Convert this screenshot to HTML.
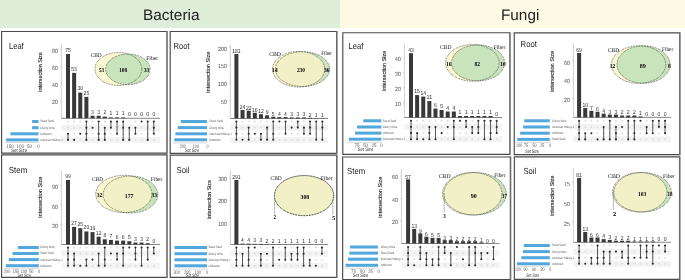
<!DOCTYPE html>
<html><head><meta charset="utf-8"><title>UpSet plots</title>
<style>
html,body{margin:0;padding:0;background:#fff;width:685px;height:280px;overflow:hidden;}
svg{display:block;will-change:transform;text-rendering:geometricPrecision;font-family:"Liberation Sans",sans-serif;}
</style></head>
<body>
<svg width="685" height="280" viewBox="0 0 685 280"><rect x="0" y="0" width="340.2" height="28" fill="#dfeed9"/>
<rect x="340.2" y="0" width="344.8" height="28" fill="#fcfae4"/>
<text x="143" y="20.2" font-family="Liberation Sans" font-size="15.2" fill="#222" textLength="56.6" lengthAdjust="spacingAndGlyphs">Bacteria</text>
<text x="501" y="20.2" font-family="Liberation Sans" font-size="15.2" fill="#222" textLength="38.3" lengthAdjust="spacingAndGlyphs">Fungi</text>
<path d="M167,31.5 H1.6 V153.15 H167" fill="none" stroke="#4a4a4a" stroke-width="1.15"/>
<line x1="167" y1="30.95" x2="167" y2="153.7" stroke="#6a6a6a" stroke-width="1.6"/>
<text x="9" y="49" font-family="Liberation Sans" font-size="8.8" fill="#1a1a1a" textLength="14.7" lengthAdjust="spacingAndGlyphs">Leaf</text>
<rect x="61.4" y="124.7" width="98.6" height="6" fill="#f3f3f3"/>
<rect x="61.4" y="136.9" width="98.6" height="6" fill="#f3f3f3"/>
<line x1="61.4" y1="44" x2="61.4" y2="118.3" stroke="#c4c4c4" stroke-width="0.8"/>
<line x1="60.4" y1="101.16" x2="61.4" y2="101.16" stroke="#aaa" stroke-width="0.6"/>
<text x="57.9" y="104.46" font-family="Liberation Sans" font-size="6" fill="#4a4a4a" text-anchor="end" textLength="5.8" lengthAdjust="spacingAndGlyphs">20</text>
<line x1="60.4" y1="84.02" x2="61.4" y2="84.02" stroke="#aaa" stroke-width="0.6"/>
<text x="57.9" y="87.32" font-family="Liberation Sans" font-size="6" fill="#4a4a4a" text-anchor="end" textLength="5.8" lengthAdjust="spacingAndGlyphs">40</text>
<line x1="60.4" y1="66.88" x2="61.4" y2="66.88" stroke="#aaa" stroke-width="0.6"/>
<text x="57.9" y="70.18" font-family="Liberation Sans" font-size="6" fill="#4a4a4a" text-anchor="end" textLength="5.8" lengthAdjust="spacingAndGlyphs">60</text>
<line x1="60.4" y1="49.74" x2="61.4" y2="49.74" stroke="#aaa" stroke-width="0.6"/>
<text x="57.9" y="53.04" font-family="Liberation Sans" font-size="6" fill="#4a4a4a" text-anchor="end" textLength="5.8" lengthAdjust="spacingAndGlyphs">80</text>
<text transform="translate(42.1,72.1) rotate(-90)" x="0" y="0" font-family="Liberation Sans" font-size="5.6" fill="#1e1e1e" stroke="#1e1e1e" stroke-width="0.12" text-anchor="middle" textLength="39.8" lengthAdjust="spacingAndGlyphs">Intersection Size</text>
<line x1="61.4" y1="118.3" x2="160" y2="118.3" stroke="#555" stroke-width="0.7"/>
<rect x="66" y="54.02" width="4" height="64.28" fill="#383838"/>
<text x="68" y="51.92" font-family="Liberation Sans" font-size="5.9" fill="#2a2a2a" text-anchor="middle" textLength="5.6" lengthAdjust="spacingAndGlyphs">75</text>
<rect x="72.13" y="72.88" width="4" height="45.42" fill="#383838"/>
<text x="74.13" y="70.78" font-family="Liberation Sans" font-size="5.9" fill="#2a2a2a" text-anchor="middle" textLength="5.6" lengthAdjust="spacingAndGlyphs">53</text>
<rect x="78.26" y="92.59" width="4" height="25.71" fill="#383838"/>
<text x="80.26" y="90.49" font-family="Liberation Sans" font-size="5.9" fill="#2a2a2a" text-anchor="middle" textLength="5.6" lengthAdjust="spacingAndGlyphs">30</text>
<rect x="84.39" y="96.88" width="4" height="21.43" fill="#383838"/>
<text x="86.39" y="94.78" font-family="Liberation Sans" font-size="5.9" fill="#2a2a2a" text-anchor="middle" textLength="5.6" lengthAdjust="spacingAndGlyphs">25</text>
<rect x="90.52" y="115.73" width="4" height="2.57" fill="#383838"/>
<text x="92.52" y="113.63" font-family="Liberation Sans" font-size="5.9" fill="#2a2a2a" text-anchor="middle" textLength="2.8" lengthAdjust="spacingAndGlyphs">3</text>
<rect x="96.65" y="115.73" width="4" height="2.57" fill="#383838"/>
<text x="98.65" y="113.63" font-family="Liberation Sans" font-size="5.9" fill="#2a2a2a" text-anchor="middle" textLength="2.8" lengthAdjust="spacingAndGlyphs">3</text>
<rect x="102.78" y="116.59" width="4" height="1.71" fill="#383838"/>
<text x="104.78" y="114.49" font-family="Liberation Sans" font-size="5.9" fill="#2a2a2a" text-anchor="middle" textLength="2.8" lengthAdjust="spacingAndGlyphs">2</text>
<rect x="108.91" y="117.44" width="4" height="0.86" fill="#383838"/>
<text x="110.91" y="115.34" font-family="Liberation Sans" font-size="5.9" fill="#2a2a2a" text-anchor="middle" textLength="2.8" lengthAdjust="spacingAndGlyphs">1</text>
<rect x="115.04" y="117.44" width="4" height="0.86" fill="#383838"/>
<text x="117.04" y="115.34" font-family="Liberation Sans" font-size="5.9" fill="#2a2a2a" text-anchor="middle" textLength="2.8" lengthAdjust="spacingAndGlyphs">1</text>
<rect x="121.17" y="117.44" width="4" height="0.86" fill="#383838"/>
<text x="123.17" y="115.34" font-family="Liberation Sans" font-size="5.9" fill="#2a2a2a" text-anchor="middle" textLength="2.8" lengthAdjust="spacingAndGlyphs">1</text>
<text x="129.3" y="116.2" font-family="Liberation Sans" font-size="5.9" fill="#2a2a2a" text-anchor="middle" textLength="2.8" lengthAdjust="spacingAndGlyphs">0</text>
<text x="135.43" y="116.2" font-family="Liberation Sans" font-size="5.9" fill="#2a2a2a" text-anchor="middle" textLength="2.8" lengthAdjust="spacingAndGlyphs">0</text>
<text x="141.56" y="116.2" font-family="Liberation Sans" font-size="5.9" fill="#2a2a2a" text-anchor="middle" textLength="2.8" lengthAdjust="spacingAndGlyphs">0</text>
<text x="147.69" y="116.2" font-family="Liberation Sans" font-size="5.9" fill="#2a2a2a" text-anchor="middle" textLength="2.8" lengthAdjust="spacingAndGlyphs">0</text>
<text x="153.82" y="116.2" font-family="Liberation Sans" font-size="5.9" fill="#2a2a2a" text-anchor="middle" textLength="2.8" lengthAdjust="spacingAndGlyphs">0</text>
<circle cx="68" cy="121.5" r="0.95" fill="#dcdcdc"/>
<circle cx="68" cy="127.7" r="0.95" fill="#dcdcdc"/>
<line x1="68" y1="133.8" x2="68" y2="139.9" stroke="#3a3a3a" stroke-width="0.85"/>
<circle cx="68" cy="133.8" r="1.05" fill="#2a2a2a"/>
<circle cx="68" cy="139.9" r="1.05" fill="#2a2a2a"/>
<circle cx="74.13" cy="121.5" r="0.95" fill="#dcdcdc"/>
<circle cx="74.13" cy="127.7" r="0.95" fill="#dcdcdc"/>
<circle cx="74.13" cy="133.8" r="0.95" fill="#dcdcdc"/>
<circle cx="74.13" cy="139.9" r="1.05" fill="#2a2a2a"/>
<circle cx="80.26" cy="121.5" r="0.95" fill="#dcdcdc"/>
<circle cx="80.26" cy="127.7" r="0.95" fill="#dcdcdc"/>
<circle cx="80.26" cy="139.9" r="0.95" fill="#dcdcdc"/>
<circle cx="80.26" cy="133.8" r="1.05" fill="#2a2a2a"/>
<line x1="86.39" y1="121.5" x2="86.39" y2="139.9" stroke="#3a3a3a" stroke-width="0.85"/>
<circle cx="86.39" cy="121.5" r="1.05" fill="#2a2a2a"/>
<circle cx="86.39" cy="127.7" r="1.05" fill="#2a2a2a"/>
<circle cx="86.39" cy="133.8" r="1.05" fill="#2a2a2a"/>
<circle cx="86.39" cy="139.9" r="1.05" fill="#2a2a2a"/>
<circle cx="92.52" cy="121.5" r="0.95" fill="#dcdcdc"/>
<circle cx="92.52" cy="133.8" r="0.95" fill="#dcdcdc"/>
<circle cx="92.52" cy="139.9" r="0.95" fill="#dcdcdc"/>
<circle cx="92.52" cy="127.7" r="1.05" fill="#2a2a2a"/>
<circle cx="98.65" cy="127.7" r="0.95" fill="#dcdcdc"/>
<line x1="98.65" y1="121.5" x2="98.65" y2="139.9" stroke="#3a3a3a" stroke-width="0.85"/>
<circle cx="98.65" cy="121.5" r="1.05" fill="#2a2a2a"/>
<circle cx="98.65" cy="133.8" r="1.05" fill="#2a2a2a"/>
<circle cx="98.65" cy="139.9" r="1.05" fill="#2a2a2a"/>
<circle cx="104.78" cy="121.5" r="0.95" fill="#dcdcdc"/>
<line x1="104.78" y1="127.7" x2="104.78" y2="139.9" stroke="#3a3a3a" stroke-width="0.85"/>
<circle cx="104.78" cy="127.7" r="1.05" fill="#2a2a2a"/>
<circle cx="104.78" cy="133.8" r="1.05" fill="#2a2a2a"/>
<circle cx="104.78" cy="139.9" r="1.05" fill="#2a2a2a"/>
<circle cx="110.91" cy="133.8" r="0.95" fill="#dcdcdc"/>
<circle cx="110.91" cy="139.9" r="0.95" fill="#dcdcdc"/>
<line x1="110.91" y1="121.5" x2="110.91" y2="127.7" stroke="#3a3a3a" stroke-width="0.85"/>
<circle cx="110.91" cy="121.5" r="1.05" fill="#2a2a2a"/>
<circle cx="110.91" cy="127.7" r="1.05" fill="#2a2a2a"/>
<circle cx="117.04" cy="127.7" r="0.95" fill="#dcdcdc"/>
<circle cx="117.04" cy="139.9" r="0.95" fill="#dcdcdc"/>
<line x1="117.04" y1="121.5" x2="117.04" y2="133.8" stroke="#3a3a3a" stroke-width="0.85"/>
<circle cx="117.04" cy="121.5" r="1.05" fill="#2a2a2a"/>
<circle cx="117.04" cy="133.8" r="1.05" fill="#2a2a2a"/>
<circle cx="123.17" cy="133.8" r="0.95" fill="#dcdcdc"/>
<line x1="123.17" y1="121.5" x2="123.17" y2="139.9" stroke="#3a3a3a" stroke-width="0.85"/>
<circle cx="123.17" cy="121.5" r="1.05" fill="#2a2a2a"/>
<circle cx="123.17" cy="127.7" r="1.05" fill="#2a2a2a"/>
<circle cx="123.17" cy="139.9" r="1.05" fill="#2a2a2a"/>
<circle cx="129.3" cy="121.5" r="0.95" fill="#dcdcdc"/>
<circle cx="129.3" cy="133.8" r="0.95" fill="#dcdcdc"/>
<line x1="129.3" y1="127.7" x2="129.3" y2="139.9" stroke="#3a3a3a" stroke-width="0.85"/>
<circle cx="129.3" cy="127.7" r="1.05" fill="#2a2a2a"/>
<circle cx="129.3" cy="139.9" r="1.05" fill="#2a2a2a"/>
<circle cx="135.43" cy="121.5" r="0.95" fill="#dcdcdc"/>
<circle cx="135.43" cy="139.9" r="0.95" fill="#dcdcdc"/>
<line x1="135.43" y1="127.7" x2="135.43" y2="133.8" stroke="#3a3a3a" stroke-width="0.85"/>
<circle cx="135.43" cy="127.7" r="1.05" fill="#2a2a2a"/>
<circle cx="135.43" cy="133.8" r="1.05" fill="#2a2a2a"/>
<circle cx="141.56" cy="127.7" r="0.95" fill="#dcdcdc"/>
<circle cx="141.56" cy="133.8" r="0.95" fill="#dcdcdc"/>
<circle cx="141.56" cy="139.9" r="0.95" fill="#dcdcdc"/>
<circle cx="141.56" cy="121.5" r="1.05" fill="#2a2a2a"/>
<circle cx="147.69" cy="127.7" r="0.95" fill="#dcdcdc"/>
<circle cx="147.69" cy="133.8" r="0.95" fill="#dcdcdc"/>
<line x1="147.69" y1="121.5" x2="147.69" y2="139.9" stroke="#3a3a3a" stroke-width="0.85"/>
<circle cx="147.69" cy="121.5" r="1.05" fill="#2a2a2a"/>
<circle cx="147.69" cy="139.9" r="1.05" fill="#2a2a2a"/>
<circle cx="153.82" cy="139.9" r="0.95" fill="#dcdcdc"/>
<line x1="153.82" y1="121.5" x2="153.82" y2="133.8" stroke="#3a3a3a" stroke-width="0.85"/>
<circle cx="153.82" cy="121.5" r="1.05" fill="#2a2a2a"/>
<circle cx="153.82" cy="127.7" r="1.05" fill="#2a2a2a"/>
<circle cx="153.82" cy="133.8" r="1.05" fill="#2a2a2a"/>
<text x="40.3" y="122.4" font-family="Liberation Sans" font-size="3.4" fill="#505050" textLength="13.4" lengthAdjust="spacingAndGlyphs">Sweet Sand</text>
<text x="40.3" y="128.6" font-family="Liberation Sans" font-size="3.4" fill="#505050" textLength="14.5" lengthAdjust="spacingAndGlyphs">Cherry Wine</text>
<text x="40.3" y="134.7" font-family="Liberation Sans" font-size="3.4" fill="#505050" textLength="11.2" lengthAdjust="spacingAndGlyphs">Unknown</text>
<text x="40.3" y="140.8" font-family="Liberation Sans" font-size="3.4" fill="#505050" textLength="22.3" lengthAdjust="spacingAndGlyphs">American History-1</text>
<rect x="32.1" y="120" width="6.4" height="3.0" fill="#52a7dd"/>
<rect x="32.1" y="126.2" width="6.4" height="3.0" fill="#52a7dd"/>
<rect x="10.4" y="132.3" width="28.1" height="3.0" fill="#52a7dd"/>
<rect x="6.1" y="138.4" width="32.4" height="3.0" fill="#52a7dd"/>
<line x1="4.3" y1="142.6" x2="39.1" y2="142.6" stroke="#cfcfcf" stroke-width="0.8"/>
<text x="10" y="147.6" font-family="Liberation Sans" font-size="5" fill="#555" text-anchor="middle" textLength="7.5" lengthAdjust="spacingAndGlyphs">150</text>
<text x="20.3" y="147.6" font-family="Liberation Sans" font-size="5" fill="#555" text-anchor="middle" textLength="7.5" lengthAdjust="spacingAndGlyphs">100</text>
<text x="29.6" y="147.6" font-family="Liberation Sans" font-size="5" fill="#555" text-anchor="middle" textLength="5" lengthAdjust="spacingAndGlyphs">50</text>
<text x="38.5" y="147.6" font-family="Liberation Sans" font-size="5" fill="#555" text-anchor="middle" textLength="2.5" lengthAdjust="spacingAndGlyphs">0</text>
<text x="11.2" y="152.05" font-family="Liberation Sans" font-size="5" fill="#333" textLength="15.8" lengthAdjust="spacingAndGlyphs">Set Size</text>
<clipPath id="c0"><ellipse cx="118.4" cy="69" rx="23.4" ry="16.5"/></clipPath>
<ellipse cx="118.4" cy="69" rx="23.4" ry="16.5" fill="#fbf7d1"/>
<ellipse cx="127.9" cy="69.3" rx="22.2" ry="15.3" fill="#c9e3bc"/>
<ellipse clip-path="url(#c0)" cx="127.9" cy="69.3" rx="22.2" ry="15.3" fill="#c9e3bc"/>
<ellipse cx="118.4" cy="69" rx="23.4" ry="16.5" fill="none" stroke="#262626" stroke-width="0.75" stroke-dasharray="0.7 0.9"/>
<ellipse cx="127.9" cy="69.3" rx="22.2" ry="15.3" fill="none" stroke="#262626" stroke-width="0.75" stroke-dasharray="0.7 0.9"/>
<text x="90.7" y="56.7" font-family="Liberation Serif" font-size="5.8" fill="#111" textLength="11" lengthAdjust="spacingAndGlyphs">CBD</text>
<text x="146.2" y="59.7" font-family="Liberation Serif" font-size="5.8" fill="#111" textLength="12" lengthAdjust="spacingAndGlyphs">Fiber</text>
<text x="99" y="72.2" font-family="Liberation Serif" font-size="6" fill="#000" textLength="5.2" lengthAdjust="spacingAndGlyphs" font-weight="bold">53</text>
<text x="119.2" y="72.2" font-family="Liberation Serif" font-size="6" fill="#000" textLength="8" lengthAdjust="spacingAndGlyphs" font-weight="bold">108</text>
<text x="144" y="72.2" font-family="Liberation Serif" font-size="6" fill="#000" textLength="5.2" lengthAdjust="spacingAndGlyphs" font-weight="bold">33</text>
<path d="M336.8,31.5 H170.2 V153.3 H336.8" fill="none" stroke="#4a4a4a" stroke-width="1.15"/>
<line x1="336.8" y1="30.95" x2="336.8" y2="153.85" stroke="#6a6a6a" stroke-width="1.6"/>
<text x="173.6" y="48.8" font-family="Liberation Sans" font-size="8.8" fill="#1a1a1a" textLength="16" lengthAdjust="spacingAndGlyphs">Root</text>
<rect x="230.3" y="124.6" width="97.7" height="6" fill="#f3f3f3"/>
<rect x="230.3" y="136.8" width="97.7" height="6" fill="#f3f3f3"/>
<line x1="230.3" y1="44.5" x2="230.3" y2="118.5" stroke="#c4c4c4" stroke-width="0.8"/>
<line x1="229.3" y1="100.7" x2="230.3" y2="100.7" stroke="#aaa" stroke-width="0.6"/>
<text x="226.8" y="104" font-family="Liberation Sans" font-size="6" fill="#4a4a4a" text-anchor="end" textLength="5.8" lengthAdjust="spacingAndGlyphs">50</text>
<line x1="229.3" y1="82.9" x2="230.3" y2="82.9" stroke="#aaa" stroke-width="0.6"/>
<text x="226.8" y="86.2" font-family="Liberation Sans" font-size="6" fill="#4a4a4a" text-anchor="end" textLength="8.7" lengthAdjust="spacingAndGlyphs">100</text>
<line x1="229.3" y1="65.1" x2="230.3" y2="65.1" stroke="#aaa" stroke-width="0.6"/>
<text x="226.8" y="68.4" font-family="Liberation Sans" font-size="6" fill="#4a4a4a" text-anchor="end" textLength="8.7" lengthAdjust="spacingAndGlyphs">150</text>
<line x1="229.3" y1="47.3" x2="230.3" y2="47.3" stroke="#aaa" stroke-width="0.6"/>
<text x="226.8" y="50.6" font-family="Liberation Sans" font-size="6" fill="#4a4a4a" text-anchor="end" textLength="8.7" lengthAdjust="spacingAndGlyphs">200</text>
<text transform="translate(209.5,72.3) rotate(-90)" x="0" y="0" font-family="Liberation Sans" font-size="5.6" fill="#1e1e1e" stroke="#1e1e1e" stroke-width="0.12" text-anchor="middle" textLength="41.5" lengthAdjust="spacingAndGlyphs">Intersection Size</text>
<line x1="230.3" y1="118.5" x2="328" y2="118.5" stroke="#555" stroke-width="0.7"/>
<rect x="234.4" y="54.06" width="4" height="64.44" fill="#383838"/>
<text x="236.4" y="52.96" font-family="Liberation Sans" font-size="5.9" fill="#2a2a2a" text-anchor="middle" textLength="8.4" lengthAdjust="spacingAndGlyphs">181</text>
<rect x="240.54" y="109.96" width="4" height="8.54" fill="#383838"/>
<text x="242.54" y="108.86" font-family="Liberation Sans" font-size="5.9" fill="#2a2a2a" text-anchor="middle" textLength="5.6" lengthAdjust="spacingAndGlyphs">24</text>
<rect x="246.68" y="110.67" width="4" height="7.83" fill="#383838"/>
<text x="248.68" y="109.57" font-family="Liberation Sans" font-size="5.9" fill="#2a2a2a" text-anchor="middle" textLength="5.6" lengthAdjust="spacingAndGlyphs">22</text>
<rect x="252.82" y="112.8" width="4" height="5.7" fill="#383838"/>
<text x="254.82" y="111.7" font-family="Liberation Sans" font-size="5.9" fill="#2a2a2a" text-anchor="middle" textLength="5.6" lengthAdjust="spacingAndGlyphs">16</text>
<rect x="258.96" y="114.23" width="4" height="4.27" fill="#383838"/>
<text x="260.96" y="113.13" font-family="Liberation Sans" font-size="5.9" fill="#2a2a2a" text-anchor="middle" textLength="5.6" lengthAdjust="spacingAndGlyphs">12</text>
<rect x="265.1" y="115.3" width="4" height="3.2" fill="#383838"/>
<text x="267.1" y="114.2" font-family="Liberation Sans" font-size="5.9" fill="#2a2a2a" text-anchor="middle" textLength="2.8" lengthAdjust="spacingAndGlyphs">9</text>
<rect x="271.24" y="116.72" width="4" height="1.78" fill="#383838"/>
<text x="273.24" y="115.62" font-family="Liberation Sans" font-size="5.9" fill="#2a2a2a" text-anchor="middle" textLength="2.8" lengthAdjust="spacingAndGlyphs">5</text>
<rect x="277.38" y="117.08" width="4" height="1.42" fill="#383838"/>
<text x="279.38" y="115.98" font-family="Liberation Sans" font-size="5.9" fill="#2a2a2a" text-anchor="middle" textLength="2.8" lengthAdjust="spacingAndGlyphs">4</text>
<rect x="283.52" y="117.08" width="4" height="1.42" fill="#383838"/>
<text x="285.52" y="115.98" font-family="Liberation Sans" font-size="5.9" fill="#2a2a2a" text-anchor="middle" textLength="2.8" lengthAdjust="spacingAndGlyphs">4</text>
<rect x="289.66" y="117.43" width="4" height="1.07" fill="#383838"/>
<text x="291.66" y="116.33" font-family="Liberation Sans" font-size="5.9" fill="#2a2a2a" text-anchor="middle" textLength="2.8" lengthAdjust="spacingAndGlyphs">3</text>
<rect x="295.8" y="117.43" width="4" height="1.07" fill="#383838"/>
<text x="297.8" y="116.33" font-family="Liberation Sans" font-size="5.9" fill="#2a2a2a" text-anchor="middle" textLength="2.8" lengthAdjust="spacingAndGlyphs">3</text>
<rect x="301.94" y="117.43" width="4" height="1.07" fill="#383838"/>
<text x="303.94" y="116.33" font-family="Liberation Sans" font-size="5.9" fill="#2a2a2a" text-anchor="middle" textLength="2.8" lengthAdjust="spacingAndGlyphs">3</text>
<rect x="308.08" y="117.79" width="4" height="0.71" fill="#383838"/>
<text x="310.08" y="116.69" font-family="Liberation Sans" font-size="5.9" fill="#2a2a2a" text-anchor="middle" textLength="2.8" lengthAdjust="spacingAndGlyphs">2</text>
<rect x="314.22" y="118.14" width="4" height="0.36" fill="#383838"/>
<text x="316.22" y="117.04" font-family="Liberation Sans" font-size="5.9" fill="#2a2a2a" text-anchor="middle" textLength="2.8" lengthAdjust="spacingAndGlyphs">1</text>
<rect x="320.36" y="118.14" width="4" height="0.36" fill="#383838"/>
<text x="322.36" y="117.04" font-family="Liberation Sans" font-size="5.9" fill="#2a2a2a" text-anchor="middle" textLength="2.8" lengthAdjust="spacingAndGlyphs">1</text>
<line x1="236.4" y1="121.5" x2="236.4" y2="139.8" stroke="#3a3a3a" stroke-width="0.85"/>
<circle cx="236.4" cy="121.5" r="1.05" fill="#2a2a2a"/>
<circle cx="236.4" cy="127.6" r="1.05" fill="#2a2a2a"/>
<circle cx="236.4" cy="133.8" r="1.05" fill="#2a2a2a"/>
<circle cx="236.4" cy="139.8" r="1.05" fill="#2a2a2a"/>
<circle cx="242.54" cy="121.5" r="0.95" fill="#dcdcdc"/>
<circle cx="242.54" cy="127.6" r="0.95" fill="#dcdcdc"/>
<circle cx="242.54" cy="133.8" r="0.95" fill="#dcdcdc"/>
<circle cx="242.54" cy="139.8" r="1.05" fill="#2a2a2a"/>
<circle cx="248.68" cy="121.5" r="0.95" fill="#dcdcdc"/>
<line x1="248.68" y1="127.6" x2="248.68" y2="139.8" stroke="#3a3a3a" stroke-width="0.85"/>
<circle cx="248.68" cy="127.6" r="1.05" fill="#2a2a2a"/>
<circle cx="248.68" cy="133.8" r="1.05" fill="#2a2a2a"/>
<circle cx="248.68" cy="139.8" r="1.05" fill="#2a2a2a"/>
<circle cx="254.82" cy="121.5" r="0.95" fill="#dcdcdc"/>
<circle cx="254.82" cy="127.6" r="0.95" fill="#dcdcdc"/>
<circle cx="254.82" cy="139.8" r="0.95" fill="#dcdcdc"/>
<circle cx="254.82" cy="133.8" r="1.05" fill="#2a2a2a"/>
<circle cx="260.96" cy="121.5" r="0.95" fill="#dcdcdc"/>
<circle cx="260.96" cy="127.6" r="0.95" fill="#dcdcdc"/>
<line x1="260.96" y1="133.8" x2="260.96" y2="139.8" stroke="#3a3a3a" stroke-width="0.85"/>
<circle cx="260.96" cy="133.8" r="1.05" fill="#2a2a2a"/>
<circle cx="260.96" cy="139.8" r="1.05" fill="#2a2a2a"/>
<circle cx="267.1" cy="121.5" r="0.95" fill="#dcdcdc"/>
<circle cx="267.1" cy="133.8" r="0.95" fill="#dcdcdc"/>
<line x1="267.1" y1="127.6" x2="267.1" y2="139.8" stroke="#3a3a3a" stroke-width="0.85"/>
<circle cx="267.1" cy="127.6" r="1.05" fill="#2a2a2a"/>
<circle cx="267.1" cy="139.8" r="1.05" fill="#2a2a2a"/>
<circle cx="273.24" cy="127.6" r="0.95" fill="#dcdcdc"/>
<line x1="273.24" y1="121.5" x2="273.24" y2="139.8" stroke="#3a3a3a" stroke-width="0.85"/>
<circle cx="273.24" cy="121.5" r="1.05" fill="#2a2a2a"/>
<circle cx="273.24" cy="133.8" r="1.05" fill="#2a2a2a"/>
<circle cx="273.24" cy="139.8" r="1.05" fill="#2a2a2a"/>
<circle cx="279.38" cy="127.6" r="0.95" fill="#dcdcdc"/>
<circle cx="279.38" cy="133.8" r="0.95" fill="#dcdcdc"/>
<circle cx="279.38" cy="139.8" r="0.95" fill="#dcdcdc"/>
<circle cx="279.38" cy="121.5" r="1.05" fill="#2a2a2a"/>
<circle cx="285.52" cy="127.6" r="0.95" fill="#dcdcdc"/>
<circle cx="285.52" cy="139.8" r="0.95" fill="#dcdcdc"/>
<line x1="285.52" y1="121.5" x2="285.52" y2="133.8" stroke="#3a3a3a" stroke-width="0.85"/>
<circle cx="285.52" cy="121.5" r="1.05" fill="#2a2a2a"/>
<circle cx="285.52" cy="133.8" r="1.05" fill="#2a2a2a"/>
<circle cx="291.66" cy="121.5" r="0.95" fill="#dcdcdc"/>
<circle cx="291.66" cy="133.8" r="0.95" fill="#dcdcdc"/>
<circle cx="291.66" cy="139.8" r="0.95" fill="#dcdcdc"/>
<circle cx="291.66" cy="127.6" r="1.05" fill="#2a2a2a"/>
<circle cx="297.8" cy="133.8" r="0.95" fill="#dcdcdc"/>
<circle cx="297.8" cy="139.8" r="0.95" fill="#dcdcdc"/>
<line x1="297.8" y1="121.5" x2="297.8" y2="127.6" stroke="#3a3a3a" stroke-width="0.85"/>
<circle cx="297.8" cy="121.5" r="1.05" fill="#2a2a2a"/>
<circle cx="297.8" cy="127.6" r="1.05" fill="#2a2a2a"/>
<circle cx="303.94" cy="121.5" r="0.95" fill="#dcdcdc"/>
<circle cx="303.94" cy="139.8" r="0.95" fill="#dcdcdc"/>
<line x1="303.94" y1="127.6" x2="303.94" y2="133.8" stroke="#3a3a3a" stroke-width="0.85"/>
<circle cx="303.94" cy="127.6" r="1.05" fill="#2a2a2a"/>
<circle cx="303.94" cy="133.8" r="1.05" fill="#2a2a2a"/>
<circle cx="310.08" cy="139.8" r="0.95" fill="#dcdcdc"/>
<line x1="310.08" y1="121.5" x2="310.08" y2="133.8" stroke="#3a3a3a" stroke-width="0.85"/>
<circle cx="310.08" cy="121.5" r="1.05" fill="#2a2a2a"/>
<circle cx="310.08" cy="127.6" r="1.05" fill="#2a2a2a"/>
<circle cx="310.08" cy="133.8" r="1.05" fill="#2a2a2a"/>
<circle cx="316.22" cy="127.6" r="0.95" fill="#dcdcdc"/>
<circle cx="316.22" cy="133.8" r="0.95" fill="#dcdcdc"/>
<line x1="316.22" y1="121.5" x2="316.22" y2="139.8" stroke="#3a3a3a" stroke-width="0.85"/>
<circle cx="316.22" cy="121.5" r="1.05" fill="#2a2a2a"/>
<circle cx="316.22" cy="139.8" r="1.05" fill="#2a2a2a"/>
<circle cx="322.36" cy="133.8" r="0.95" fill="#dcdcdc"/>
<line x1="322.36" y1="121.5" x2="322.36" y2="139.8" stroke="#3a3a3a" stroke-width="0.85"/>
<circle cx="322.36" cy="121.5" r="1.05" fill="#2a2a2a"/>
<circle cx="322.36" cy="127.6" r="1.05" fill="#2a2a2a"/>
<circle cx="322.36" cy="139.8" r="1.05" fill="#2a2a2a"/>
<text x="209.3" y="122.4" font-family="Liberation Sans" font-size="3.4" fill="#505050" textLength="13.4" lengthAdjust="spacingAndGlyphs">Sweet Sand</text>
<text x="209.3" y="128.5" font-family="Liberation Sans" font-size="3.4" fill="#505050" textLength="14.5" lengthAdjust="spacingAndGlyphs">Cherry Wine</text>
<text x="209.3" y="134.7" font-family="Liberation Sans" font-size="3.4" fill="#505050" textLength="22.3" lengthAdjust="spacingAndGlyphs">American History-1</text>
<text x="209.3" y="140.7" font-family="Liberation Sans" font-size="3.4" fill="#505050" textLength="11.2" lengthAdjust="spacingAndGlyphs">Unknown</text>
<rect x="180.8" y="120" width="26.2" height="3.0" fill="#52a7dd"/>
<rect x="177.8" y="126.1" width="29.2" height="3.0" fill="#52a7dd"/>
<rect x="175.4" y="132.3" width="31.6" height="3.0" fill="#52a7dd"/>
<rect x="174.3" y="138.3" width="32.7" height="3.0" fill="#52a7dd"/>
<line x1="173" y1="142.9" x2="207.6" y2="142.9" stroke="#cfcfcf" stroke-width="0.8"/>
<text x="182.8" y="148.2" font-family="Liberation Sans" font-size="5" fill="#555" text-anchor="middle" textLength="6.15" lengthAdjust="spacingAndGlyphs">200</text>
<text x="195.9" y="148.2" font-family="Liberation Sans" font-size="5" fill="#555" text-anchor="middle" textLength="6.15" lengthAdjust="spacingAndGlyphs">100</text>
<text x="207.6" y="148.2" font-family="Liberation Sans" font-size="5" fill="#555" text-anchor="middle" textLength="2.05" lengthAdjust="spacingAndGlyphs">0</text>
<text x="185" y="152.25" font-family="Liberation Sans" font-size="5" fill="#333" textLength="14" lengthAdjust="spacingAndGlyphs">Set Size</text>
<clipPath id="c1"><ellipse cx="298.6" cy="69.2" rx="26" ry="17.8"/></clipPath>
<ellipse cx="298.6" cy="69.2" rx="26" ry="17.8" fill="#fbf7d1"/>
<ellipse cx="302.5" cy="69.1" rx="27.1" ry="17.4" fill="#c9e3bc"/>
<ellipse clip-path="url(#c1)" cx="302.5" cy="69.1" rx="27.1" ry="17.4" fill="#f2f0c7"/>
<ellipse cx="298.6" cy="69.2" rx="26" ry="17.8" fill="none" stroke="#262626" stroke-width="0.75" stroke-dasharray="0.7 0.9"/>
<ellipse cx="302.5" cy="69.1" rx="27.1" ry="17.4" fill="none" stroke="#262626" stroke-width="0.75" stroke-dasharray="0.7 0.9"/>
<text x="269.2" y="55.7" font-family="Liberation Serif" font-size="5.8" fill="#111" textLength="11.8" lengthAdjust="spacingAndGlyphs">CBD</text>
<text x="321.2" y="55.4" font-family="Liberation Serif" font-size="5.8" fill="#111" textLength="10.9" lengthAdjust="spacingAndGlyphs">Fiber</text>
<text x="271.7" y="71.8" font-family="Liberation Serif" font-size="6" fill="#000" textLength="5.9" lengthAdjust="spacingAndGlyphs" font-weight="bold">14</text>
<text x="296.9" y="71.8" font-family="Liberation Serif" font-size="6" fill="#000" textLength="8" lengthAdjust="spacingAndGlyphs" font-weight="bold">230</text>
<text x="324" y="71.8" font-family="Liberation Serif" font-size="6" fill="#000" textLength="5.6" lengthAdjust="spacingAndGlyphs" font-weight="bold">36</text>
<path d="M167,154.9 H1.6 V277.35 H167" fill="none" stroke="#4a4a4a" stroke-width="1.15"/>
<line x1="167" y1="154.35" x2="167" y2="277.9" stroke="#6a6a6a" stroke-width="1.6"/>
<text x="8.8" y="172.8" font-family="Liberation Sans" font-size="8.8" fill="#1a1a1a" textLength="18.5" lengthAdjust="spacingAndGlyphs">Stem</text>
<rect x="61.4" y="250.5" width="98.6" height="6" fill="#f3f3f3"/>
<rect x="61.4" y="262.7" width="98.6" height="6" fill="#f3f3f3"/>
<line x1="61.4" y1="170.3" x2="61.4" y2="244.5" stroke="#c4c4c4" stroke-width="0.8"/>
<line x1="60.4" y1="224.93" x2="61.4" y2="224.93" stroke="#aaa" stroke-width="0.6"/>
<text x="57.9" y="228.23" font-family="Liberation Sans" font-size="6" fill="#4a4a4a" text-anchor="end" textLength="5.8" lengthAdjust="spacingAndGlyphs">30</text>
<line x1="60.4" y1="205.35" x2="61.4" y2="205.35" stroke="#aaa" stroke-width="0.6"/>
<text x="57.9" y="208.65" font-family="Liberation Sans" font-size="6" fill="#4a4a4a" text-anchor="end" textLength="5.8" lengthAdjust="spacingAndGlyphs">60</text>
<line x1="60.4" y1="185.78" x2="61.4" y2="185.78" stroke="#aaa" stroke-width="0.6"/>
<text x="57.9" y="189.08" font-family="Liberation Sans" font-size="6" fill="#4a4a4a" text-anchor="end" textLength="5.8" lengthAdjust="spacingAndGlyphs">90</text>
<text transform="translate(41.7,197.3) rotate(-90)" x="0" y="0" font-family="Liberation Sans" font-size="5.6" fill="#1e1e1e" stroke="#1e1e1e" stroke-width="0.12" text-anchor="middle" textLength="41.5" lengthAdjust="spacingAndGlyphs">Intersection Size</text>
<line x1="61.4" y1="244.5" x2="160" y2="244.5" stroke="#555" stroke-width="0.7"/>
<rect x="66" y="179.9" width="4" height="64.6" fill="#383838"/>
<text x="68" y="177.9" font-family="Liberation Sans" font-size="5.9" fill="#2a2a2a" text-anchor="middle" textLength="5.6" lengthAdjust="spacingAndGlyphs">99</text>
<rect x="72.13" y="226.88" width="4" height="17.62" fill="#383838"/>
<text x="74.13" y="224.88" font-family="Liberation Sans" font-size="5.9" fill="#2a2a2a" text-anchor="middle" textLength="5.6" lengthAdjust="spacingAndGlyphs">27</text>
<rect x="78.26" y="228.19" width="4" height="16.31" fill="#383838"/>
<text x="80.26" y="226.19" font-family="Liberation Sans" font-size="5.9" fill="#2a2a2a" text-anchor="middle" textLength="5.6" lengthAdjust="spacingAndGlyphs">25</text>
<rect x="84.39" y="231.45" width="4" height="13.05" fill="#383838"/>
<text x="86.39" y="229.45" font-family="Liberation Sans" font-size="5.9" fill="#2a2a2a" text-anchor="middle" textLength="5.6" lengthAdjust="spacingAndGlyphs">20</text>
<rect x="90.52" y="232.1" width="4" height="12.4" fill="#383838"/>
<text x="92.52" y="230.1" font-family="Liberation Sans" font-size="5.9" fill="#2a2a2a" text-anchor="middle" textLength="5.6" lengthAdjust="spacingAndGlyphs">19</text>
<rect x="96.65" y="236.67" width="4" height="7.83" fill="#383838"/>
<text x="98.65" y="234.67" font-family="Liberation Sans" font-size="5.9" fill="#2a2a2a" text-anchor="middle" textLength="5.6" lengthAdjust="spacingAndGlyphs">12</text>
<rect x="102.78" y="239.28" width="4" height="5.22" fill="#383838"/>
<text x="104.78" y="237.28" font-family="Liberation Sans" font-size="5.9" fill="#2a2a2a" text-anchor="middle" textLength="2.8" lengthAdjust="spacingAndGlyphs">8</text>
<rect x="108.91" y="239.93" width="4" height="4.57" fill="#383838"/>
<text x="110.91" y="237.93" font-family="Liberation Sans" font-size="5.9" fill="#2a2a2a" text-anchor="middle" textLength="2.8" lengthAdjust="spacingAndGlyphs">7</text>
<rect x="115.04" y="240.59" width="4" height="3.92" fill="#383838"/>
<text x="117.04" y="238.59" font-family="Liberation Sans" font-size="5.9" fill="#2a2a2a" text-anchor="middle" textLength="2.8" lengthAdjust="spacingAndGlyphs">6</text>
<rect x="121.17" y="240.59" width="4" height="3.92" fill="#383838"/>
<text x="123.17" y="238.59" font-family="Liberation Sans" font-size="5.9" fill="#2a2a2a" text-anchor="middle" textLength="2.8" lengthAdjust="spacingAndGlyphs">6</text>
<rect x="127.3" y="241.24" width="4" height="3.26" fill="#383838"/>
<text x="129.3" y="239.24" font-family="Liberation Sans" font-size="5.9" fill="#2a2a2a" text-anchor="middle" textLength="2.8" lengthAdjust="spacingAndGlyphs">5</text>
<rect x="133.43" y="242.54" width="4" height="1.96" fill="#383838"/>
<text x="135.43" y="240.54" font-family="Liberation Sans" font-size="5.9" fill="#2a2a2a" text-anchor="middle" textLength="2.8" lengthAdjust="spacingAndGlyphs">3</text>
<rect x="139.56" y="242.54" width="4" height="1.96" fill="#383838"/>
<text x="141.56" y="240.54" font-family="Liberation Sans" font-size="5.9" fill="#2a2a2a" text-anchor="middle" textLength="2.8" lengthAdjust="spacingAndGlyphs">3</text>
<rect x="145.69" y="243.19" width="4" height="1.3" fill="#383838"/>
<text x="147.69" y="241.19" font-family="Liberation Sans" font-size="5.9" fill="#2a2a2a" text-anchor="middle" textLength="2.8" lengthAdjust="spacingAndGlyphs">2</text>
<text x="153.82" y="242.5" font-family="Liberation Sans" font-size="5.9" fill="#2a2a2a" text-anchor="middle" textLength="2.8" lengthAdjust="spacingAndGlyphs">0</text>
<line x1="68" y1="247.5" x2="68" y2="265.7" stroke="#3a3a3a" stroke-width="0.85"/>
<circle cx="68" cy="247.5" r="1.05" fill="#2a2a2a"/>
<circle cx="68" cy="253.5" r="1.05" fill="#2a2a2a"/>
<circle cx="68" cy="259.6" r="1.05" fill="#2a2a2a"/>
<circle cx="68" cy="265.7" r="1.05" fill="#2a2a2a"/>
<circle cx="74.13" cy="247.5" r="0.95" fill="#dcdcdc"/>
<line x1="74.13" y1="253.5" x2="74.13" y2="265.7" stroke="#3a3a3a" stroke-width="0.85"/>
<circle cx="74.13" cy="253.5" r="1.05" fill="#2a2a2a"/>
<circle cx="74.13" cy="259.6" r="1.05" fill="#2a2a2a"/>
<circle cx="74.13" cy="265.7" r="1.05" fill="#2a2a2a"/>
<circle cx="80.26" cy="247.5" r="0.95" fill="#dcdcdc"/>
<circle cx="80.26" cy="253.5" r="0.95" fill="#dcdcdc"/>
<circle cx="80.26" cy="259.6" r="0.95" fill="#dcdcdc"/>
<circle cx="80.26" cy="265.7" r="1.05" fill="#2a2a2a"/>
<circle cx="86.39" cy="247.5" r="0.95" fill="#dcdcdc"/>
<circle cx="86.39" cy="253.5" r="0.95" fill="#dcdcdc"/>
<line x1="86.39" y1="259.6" x2="86.39" y2="265.7" stroke="#3a3a3a" stroke-width="0.85"/>
<circle cx="86.39" cy="259.6" r="1.05" fill="#2a2a2a"/>
<circle cx="86.39" cy="265.7" r="1.05" fill="#2a2a2a"/>
<circle cx="92.52" cy="247.5" r="0.95" fill="#dcdcdc"/>
<circle cx="92.52" cy="253.5" r="0.95" fill="#dcdcdc"/>
<circle cx="92.52" cy="265.7" r="0.95" fill="#dcdcdc"/>
<circle cx="92.52" cy="259.6" r="1.05" fill="#2a2a2a"/>
<circle cx="98.65" cy="247.5" r="0.95" fill="#dcdcdc"/>
<circle cx="98.65" cy="259.6" r="0.95" fill="#dcdcdc"/>
<line x1="98.65" y1="253.5" x2="98.65" y2="265.7" stroke="#3a3a3a" stroke-width="0.85"/>
<circle cx="98.65" cy="253.5" r="1.05" fill="#2a2a2a"/>
<circle cx="98.65" cy="265.7" r="1.05" fill="#2a2a2a"/>
<circle cx="104.78" cy="253.5" r="0.95" fill="#dcdcdc"/>
<line x1="104.78" y1="247.5" x2="104.78" y2="265.7" stroke="#3a3a3a" stroke-width="0.85"/>
<circle cx="104.78" cy="247.5" r="1.05" fill="#2a2a2a"/>
<circle cx="104.78" cy="259.6" r="1.05" fill="#2a2a2a"/>
<circle cx="104.78" cy="265.7" r="1.05" fill="#2a2a2a"/>
<circle cx="110.91" cy="247.5" r="0.95" fill="#dcdcdc"/>
<circle cx="110.91" cy="259.6" r="0.95" fill="#dcdcdc"/>
<circle cx="110.91" cy="265.7" r="0.95" fill="#dcdcdc"/>
<circle cx="110.91" cy="253.5" r="1.05" fill="#2a2a2a"/>
<circle cx="117.04" cy="247.5" r="0.95" fill="#dcdcdc"/>
<circle cx="117.04" cy="265.7" r="0.95" fill="#dcdcdc"/>
<line x1="117.04" y1="253.5" x2="117.04" y2="259.6" stroke="#3a3a3a" stroke-width="0.85"/>
<circle cx="117.04" cy="253.5" r="1.05" fill="#2a2a2a"/>
<circle cx="117.04" cy="259.6" r="1.05" fill="#2a2a2a"/>
<circle cx="123.17" cy="259.6" r="0.95" fill="#dcdcdc"/>
<line x1="123.17" y1="247.5" x2="123.17" y2="265.7" stroke="#3a3a3a" stroke-width="0.85"/>
<circle cx="123.17" cy="247.5" r="1.05" fill="#2a2a2a"/>
<circle cx="123.17" cy="253.5" r="1.05" fill="#2a2a2a"/>
<circle cx="123.17" cy="265.7" r="1.05" fill="#2a2a2a"/>
<circle cx="129.3" cy="253.5" r="0.95" fill="#dcdcdc"/>
<circle cx="129.3" cy="259.6" r="0.95" fill="#dcdcdc"/>
<circle cx="129.3" cy="265.7" r="0.95" fill="#dcdcdc"/>
<circle cx="129.3" cy="247.5" r="1.05" fill="#2a2a2a"/>
<circle cx="135.43" cy="265.7" r="0.95" fill="#dcdcdc"/>
<line x1="135.43" y1="247.5" x2="135.43" y2="259.6" stroke="#3a3a3a" stroke-width="0.85"/>
<circle cx="135.43" cy="247.5" r="1.05" fill="#2a2a2a"/>
<circle cx="135.43" cy="253.5" r="1.05" fill="#2a2a2a"/>
<circle cx="135.43" cy="259.6" r="1.05" fill="#2a2a2a"/>
<circle cx="141.56" cy="253.5" r="0.95" fill="#dcdcdc"/>
<circle cx="141.56" cy="259.6" r="0.95" fill="#dcdcdc"/>
<line x1="141.56" y1="247.5" x2="141.56" y2="265.7" stroke="#3a3a3a" stroke-width="0.85"/>
<circle cx="141.56" cy="247.5" r="1.05" fill="#2a2a2a"/>
<circle cx="141.56" cy="265.7" r="1.05" fill="#2a2a2a"/>
<circle cx="147.69" cy="253.5" r="0.95" fill="#dcdcdc"/>
<circle cx="147.69" cy="265.7" r="0.95" fill="#dcdcdc"/>
<line x1="147.69" y1="247.5" x2="147.69" y2="259.6" stroke="#3a3a3a" stroke-width="0.85"/>
<circle cx="147.69" cy="247.5" r="1.05" fill="#2a2a2a"/>
<circle cx="147.69" cy="259.6" r="1.05" fill="#2a2a2a"/>
<circle cx="153.82" cy="259.6" r="0.95" fill="#dcdcdc"/>
<circle cx="153.82" cy="265.7" r="0.95" fill="#dcdcdc"/>
<line x1="153.82" y1="247.5" x2="153.82" y2="253.5" stroke="#3a3a3a" stroke-width="0.85"/>
<circle cx="153.82" cy="247.5" r="1.05" fill="#2a2a2a"/>
<circle cx="153.82" cy="253.5" r="1.05" fill="#2a2a2a"/>
<text x="40.3" y="248.4" font-family="Liberation Sans" font-size="3.4" fill="#505050" textLength="14.5" lengthAdjust="spacingAndGlyphs">Cherry Wine</text>
<text x="40.3" y="254.4" font-family="Liberation Sans" font-size="3.4" fill="#505050" textLength="13.4" lengthAdjust="spacingAndGlyphs">Sweet Sand</text>
<text x="40.3" y="260.5" font-family="Liberation Sans" font-size="3.4" fill="#505050" textLength="22.3" lengthAdjust="spacingAndGlyphs">American History-1</text>
<text x="40.3" y="266.6" font-family="Liberation Sans" font-size="3.4" fill="#505050" textLength="11.2" lengthAdjust="spacingAndGlyphs">Unknown</text>
<rect x="18" y="246" width="20.8" height="3.0" fill="#52a7dd"/>
<rect x="12.5" y="252" width="26.3" height="3.0" fill="#52a7dd"/>
<rect x="8.8" y="258.1" width="30" height="3.0" fill="#52a7dd"/>
<rect x="5.8" y="264.2" width="33" height="3.0" fill="#52a7dd"/>
<line x1="4" y1="268.25" x2="39.4" y2="268.25" stroke="#cfcfcf" stroke-width="0.8"/>
<text x="7.2" y="273.4" font-family="Liberation Sans" font-size="5" fill="#555" text-anchor="middle" textLength="6.45" lengthAdjust="spacingAndGlyphs">200</text>
<text x="16" y="273.4" font-family="Liberation Sans" font-size="5" fill="#555" text-anchor="middle" textLength="6.45" lengthAdjust="spacingAndGlyphs">150</text>
<text x="23.9" y="273.4" font-family="Liberation Sans" font-size="5" fill="#555" text-anchor="middle" textLength="6.45" lengthAdjust="spacingAndGlyphs">100</text>
<text x="31.3" y="273.4" font-family="Liberation Sans" font-size="5" fill="#555" text-anchor="middle" textLength="4.3" lengthAdjust="spacingAndGlyphs">50</text>
<text x="39" y="273.4" font-family="Liberation Sans" font-size="5" fill="#555" text-anchor="middle" textLength="2.15" lengthAdjust="spacingAndGlyphs">0</text>
<text x="17.45" y="276.55" font-family="Liberation Sans" font-size="5" fill="#333" textLength="13.5" lengthAdjust="spacingAndGlyphs">Set Size</text>
<clipPath id="c2"><ellipse cx="123.9" cy="194" rx="28.1" ry="18.6"/></clipPath>
<ellipse cx="123.9" cy="194" rx="28.1" ry="18.6" fill="#fbf7d1"/>
<ellipse cx="130.5" cy="194.5" rx="27.3" ry="18.5" fill="#c9e3bc"/>
<ellipse clip-path="url(#c2)" cx="130.5" cy="194.5" rx="27.3" ry="18.5" fill="#f2f0c7"/>
<ellipse cx="123.9" cy="194" rx="28.1" ry="18.6" fill="none" stroke="#262626" stroke-width="0.75" stroke-dasharray="0.7 0.9"/>
<ellipse cx="130.5" cy="194.5" rx="27.3" ry="18.5" fill="none" stroke="#262626" stroke-width="0.75" stroke-dasharray="0.7 0.9"/>
<text x="92" y="181" font-family="Liberation Serif" font-size="5.8" fill="#111" textLength="11.2" lengthAdjust="spacingAndGlyphs">CBD</text>
<text x="150.8" y="181" font-family="Liberation Serif" font-size="5.8" fill="#111" textLength="11.6" lengthAdjust="spacingAndGlyphs">Fiber</text>
<text x="96.7" y="197" font-family="Liberation Serif" font-size="6" fill="#000" textLength="5.8" lengthAdjust="spacingAndGlyphs" font-weight="bold">32</text>
<text x="124.8" y="198.3" font-family="Liberation Serif" font-size="6" fill="#000" textLength="8.6" lengthAdjust="spacingAndGlyphs" font-weight="bold">177</text>
<text x="151.5" y="197" font-family="Liberation Serif" font-size="6" fill="#000" textLength="5.5" lengthAdjust="spacingAndGlyphs" font-weight="bold">33</text>
<path d="M336.8,155.1 H170.2 V277.35 H336.8" fill="none" stroke="#4a4a4a" stroke-width="1.15"/>
<line x1="336.8" y1="154.55" x2="336.8" y2="277.9" stroke="#6a6a6a" stroke-width="1.6"/>
<text x="176.6" y="173.2" font-family="Liberation Sans" font-size="8.8" fill="#1a1a1a" textLength="12.8" lengthAdjust="spacingAndGlyphs">Soil</text>
<rect x="230.4" y="250.7" width="97.8" height="6" fill="#f3f3f3"/>
<rect x="230.4" y="262.8" width="97.8" height="6" fill="#f3f3f3"/>
<line x1="230.4" y1="170" x2="230.4" y2="244.5" stroke="#c4c4c4" stroke-width="0.8"/>
<line x1="229.4" y1="222.34" x2="230.4" y2="222.34" stroke="#aaa" stroke-width="0.6"/>
<text x="226.9" y="225.64" font-family="Liberation Sans" font-size="6" fill="#4a4a4a" text-anchor="end" textLength="8.7" lengthAdjust="spacingAndGlyphs">100</text>
<line x1="229.4" y1="200.18" x2="230.4" y2="200.18" stroke="#aaa" stroke-width="0.6"/>
<text x="226.9" y="203.48" font-family="Liberation Sans" font-size="6" fill="#4a4a4a" text-anchor="end" textLength="8.7" lengthAdjust="spacingAndGlyphs">200</text>
<line x1="229.4" y1="178.02" x2="230.4" y2="178.02" stroke="#aaa" stroke-width="0.6"/>
<text x="226.9" y="181.32" font-family="Liberation Sans" font-size="6" fill="#4a4a4a" text-anchor="end" textLength="8.7" lengthAdjust="spacingAndGlyphs">300</text>
<text transform="translate(210.5,199.6) rotate(-90)" x="0" y="0" font-family="Liberation Sans" font-size="5.6" fill="#1e1e1e" stroke="#1e1e1e" stroke-width="0.12" text-anchor="middle" textLength="39" lengthAdjust="spacingAndGlyphs">Intersection Size</text>
<line x1="230.4" y1="244.5" x2="328.2" y2="244.5" stroke="#555" stroke-width="0.7"/>
<rect x="234.4" y="180.01" width="4" height="64.49" fill="#383838"/>
<text x="236.4" y="178.61" font-family="Liberation Sans" font-size="5.9" fill="#2a2a2a" text-anchor="middle" textLength="8.4" lengthAdjust="spacingAndGlyphs">291</text>
<rect x="240.51" y="243.61" width="4" height="0.89" fill="#383838"/>
<text x="242.51" y="242.21" font-family="Liberation Sans" font-size="5.9" fill="#2a2a2a" text-anchor="middle" textLength="2.8" lengthAdjust="spacingAndGlyphs">4</text>
<rect x="246.62" y="243.61" width="4" height="0.89" fill="#383838"/>
<text x="248.62" y="242.21" font-family="Liberation Sans" font-size="5.9" fill="#2a2a2a" text-anchor="middle" textLength="2.8" lengthAdjust="spacingAndGlyphs">4</text>
<rect x="252.73" y="243.84" width="4" height="0.66" fill="#383838"/>
<text x="254.73" y="242.44" font-family="Liberation Sans" font-size="5.9" fill="#2a2a2a" text-anchor="middle" textLength="2.8" lengthAdjust="spacingAndGlyphs">3</text>
<rect x="258.84" y="243.84" width="4" height="0.66" fill="#383838"/>
<text x="260.84" y="242.44" font-family="Liberation Sans" font-size="5.9" fill="#2a2a2a" text-anchor="middle" textLength="2.8" lengthAdjust="spacingAndGlyphs">3</text>
<rect x="264.95" y="244.06" width="4" height="0.44" fill="#383838"/>
<text x="266.95" y="242.66" font-family="Liberation Sans" font-size="5.9" fill="#2a2a2a" text-anchor="middle" textLength="2.8" lengthAdjust="spacingAndGlyphs">2</text>
<rect x="271.06" y="244.06" width="4" height="0.44" fill="#383838"/>
<text x="273.06" y="242.66" font-family="Liberation Sans" font-size="5.9" fill="#2a2a2a" text-anchor="middle" textLength="2.8" lengthAdjust="spacingAndGlyphs">2</text>
<rect x="277.17" y="244.28" width="4" height="0.22" fill="#383838"/>
<text x="279.17" y="242.88" font-family="Liberation Sans" font-size="5.9" fill="#2a2a2a" text-anchor="middle" textLength="2.8" lengthAdjust="spacingAndGlyphs">1</text>
<rect x="283.28" y="244.28" width="4" height="0.22" fill="#383838"/>
<text x="285.28" y="242.88" font-family="Liberation Sans" font-size="5.9" fill="#2a2a2a" text-anchor="middle" textLength="2.8" lengthAdjust="spacingAndGlyphs">1</text>
<rect x="289.39" y="244.28" width="4" height="0.22" fill="#383838"/>
<text x="291.39" y="242.88" font-family="Liberation Sans" font-size="5.9" fill="#2a2a2a" text-anchor="middle" textLength="2.8" lengthAdjust="spacingAndGlyphs">1</text>
<rect x="295.5" y="244.28" width="4" height="0.22" fill="#383838"/>
<text x="297.5" y="242.88" font-family="Liberation Sans" font-size="5.9" fill="#2a2a2a" text-anchor="middle" textLength="2.8" lengthAdjust="spacingAndGlyphs">1</text>
<rect x="301.61" y="244.28" width="4" height="0.22" fill="#383838"/>
<text x="303.61" y="242.88" font-family="Liberation Sans" font-size="5.9" fill="#2a2a2a" text-anchor="middle" textLength="2.8" lengthAdjust="spacingAndGlyphs">1</text>
<rect x="307.72" y="244.28" width="4" height="0.22" fill="#383838"/>
<text x="309.72" y="242.88" font-family="Liberation Sans" font-size="5.9" fill="#2a2a2a" text-anchor="middle" textLength="2.8" lengthAdjust="spacingAndGlyphs">1</text>
<text x="315.83" y="243.1" font-family="Liberation Sans" font-size="5.9" fill="#2a2a2a" text-anchor="middle" textLength="2.8" lengthAdjust="spacingAndGlyphs">0</text>
<text x="321.94" y="243.1" font-family="Liberation Sans" font-size="5.9" fill="#2a2a2a" text-anchor="middle" textLength="2.8" lengthAdjust="spacingAndGlyphs">0</text>
<line x1="236.4" y1="247.5" x2="236.4" y2="265.8" stroke="#3a3a3a" stroke-width="0.85"/>
<circle cx="236.4" cy="247.5" r="1.05" fill="#2a2a2a"/>
<circle cx="236.4" cy="253.7" r="1.05" fill="#2a2a2a"/>
<circle cx="236.4" cy="259.8" r="1.05" fill="#2a2a2a"/>
<circle cx="236.4" cy="265.8" r="1.05" fill="#2a2a2a"/>
<circle cx="242.51" cy="247.5" r="0.95" fill="#dcdcdc"/>
<circle cx="242.51" cy="259.8" r="0.95" fill="#dcdcdc"/>
<line x1="242.51" y1="253.7" x2="242.51" y2="265.8" stroke="#3a3a3a" stroke-width="0.85"/>
<circle cx="242.51" cy="253.7" r="1.05" fill="#2a2a2a"/>
<circle cx="242.51" cy="265.8" r="1.05" fill="#2a2a2a"/>
<circle cx="248.62" cy="253.7" r="0.95" fill="#dcdcdc"/>
<line x1="248.62" y1="247.5" x2="248.62" y2="265.8" stroke="#3a3a3a" stroke-width="0.85"/>
<circle cx="248.62" cy="247.5" r="1.05" fill="#2a2a2a"/>
<circle cx="248.62" cy="259.8" r="1.05" fill="#2a2a2a"/>
<circle cx="248.62" cy="265.8" r="1.05" fill="#2a2a2a"/>
<circle cx="254.73" cy="253.7" r="0.95" fill="#dcdcdc"/>
<circle cx="254.73" cy="259.8" r="0.95" fill="#dcdcdc"/>
<circle cx="254.73" cy="265.8" r="0.95" fill="#dcdcdc"/>
<circle cx="254.73" cy="247.5" r="1.05" fill="#2a2a2a"/>
<circle cx="260.84" cy="247.5" r="0.95" fill="#dcdcdc"/>
<line x1="260.84" y1="253.7" x2="260.84" y2="265.8" stroke="#3a3a3a" stroke-width="0.85"/>
<circle cx="260.84" cy="253.7" r="1.05" fill="#2a2a2a"/>
<circle cx="260.84" cy="259.8" r="1.05" fill="#2a2a2a"/>
<circle cx="260.84" cy="265.8" r="1.05" fill="#2a2a2a"/>
<circle cx="266.95" cy="247.5" r="0.95" fill="#dcdcdc"/>
<circle cx="266.95" cy="259.8" r="0.95" fill="#dcdcdc"/>
<circle cx="266.95" cy="265.8" r="0.95" fill="#dcdcdc"/>
<circle cx="266.95" cy="253.7" r="1.05" fill="#2a2a2a"/>
<circle cx="273.06" cy="253.7" r="0.95" fill="#dcdcdc"/>
<circle cx="273.06" cy="259.8" r="0.95" fill="#dcdcdc"/>
<line x1="273.06" y1="247.5" x2="273.06" y2="265.8" stroke="#3a3a3a" stroke-width="0.85"/>
<circle cx="273.06" cy="247.5" r="1.05" fill="#2a2a2a"/>
<circle cx="273.06" cy="265.8" r="1.05" fill="#2a2a2a"/>
<circle cx="279.17" cy="247.5" r="0.95" fill="#dcdcdc"/>
<circle cx="279.17" cy="253.7" r="0.95" fill="#dcdcdc"/>
<circle cx="279.17" cy="265.8" r="0.95" fill="#dcdcdc"/>
<circle cx="279.17" cy="259.8" r="1.05" fill="#2a2a2a"/>
<circle cx="285.28" cy="253.7" r="0.95" fill="#dcdcdc"/>
<circle cx="285.28" cy="265.8" r="0.95" fill="#dcdcdc"/>
<line x1="285.28" y1="247.5" x2="285.28" y2="259.8" stroke="#3a3a3a" stroke-width="0.85"/>
<circle cx="285.28" cy="247.5" r="1.05" fill="#2a2a2a"/>
<circle cx="285.28" cy="259.8" r="1.05" fill="#2a2a2a"/>
<circle cx="291.39" cy="247.5" r="0.95" fill="#dcdcdc"/>
<circle cx="291.39" cy="265.8" r="0.95" fill="#dcdcdc"/>
<line x1="291.39" y1="253.7" x2="291.39" y2="259.8" stroke="#3a3a3a" stroke-width="0.85"/>
<circle cx="291.39" cy="253.7" r="1.05" fill="#2a2a2a"/>
<circle cx="291.39" cy="259.8" r="1.05" fill="#2a2a2a"/>
<circle cx="297.5" cy="265.8" r="0.95" fill="#dcdcdc"/>
<line x1="297.5" y1="247.5" x2="297.5" y2="259.8" stroke="#3a3a3a" stroke-width="0.85"/>
<circle cx="297.5" cy="247.5" r="1.05" fill="#2a2a2a"/>
<circle cx="297.5" cy="253.7" r="1.05" fill="#2a2a2a"/>
<circle cx="297.5" cy="259.8" r="1.05" fill="#2a2a2a"/>
<circle cx="303.61" cy="259.8" r="0.95" fill="#dcdcdc"/>
<line x1="303.61" y1="247.5" x2="303.61" y2="265.8" stroke="#3a3a3a" stroke-width="0.85"/>
<circle cx="303.61" cy="247.5" r="1.05" fill="#2a2a2a"/>
<circle cx="303.61" cy="253.7" r="1.05" fill="#2a2a2a"/>
<circle cx="303.61" cy="265.8" r="1.05" fill="#2a2a2a"/>
<circle cx="309.72" cy="247.5" r="0.95" fill="#dcdcdc"/>
<circle cx="309.72" cy="253.7" r="0.95" fill="#dcdcdc"/>
<line x1="309.72" y1="259.8" x2="309.72" y2="265.8" stroke="#3a3a3a" stroke-width="0.85"/>
<circle cx="309.72" cy="259.8" r="1.05" fill="#2a2a2a"/>
<circle cx="309.72" cy="265.8" r="1.05" fill="#2a2a2a"/>
<circle cx="315.83" cy="247.5" r="0.95" fill="#dcdcdc"/>
<circle cx="315.83" cy="253.7" r="0.95" fill="#dcdcdc"/>
<circle cx="315.83" cy="259.8" r="0.95" fill="#dcdcdc"/>
<circle cx="315.83" cy="265.8" r="1.05" fill="#2a2a2a"/>
<circle cx="321.94" cy="259.8" r="0.95" fill="#dcdcdc"/>
<circle cx="321.94" cy="265.8" r="0.95" fill="#dcdcdc"/>
<line x1="321.94" y1="247.5" x2="321.94" y2="253.7" stroke="#3a3a3a" stroke-width="0.85"/>
<circle cx="321.94" cy="247.5" r="1.05" fill="#2a2a2a"/>
<circle cx="321.94" cy="253.7" r="1.05" fill="#2a2a2a"/>
<text x="208.4" y="248.4" font-family="Liberation Sans" font-size="3.4" fill="#505050" textLength="13.4" lengthAdjust="spacingAndGlyphs">Sweet Sand</text>
<text x="208.4" y="254.6" font-family="Liberation Sans" font-size="3.4" fill="#505050" textLength="14.5" lengthAdjust="spacingAndGlyphs">Cherry Wine</text>
<text x="208.4" y="260.7" font-family="Liberation Sans" font-size="3.4" fill="#505050" textLength="22.3" lengthAdjust="spacingAndGlyphs">American History-1</text>
<text x="208.4" y="266.7" font-family="Liberation Sans" font-size="3.4" fill="#505050" textLength="11.2" lengthAdjust="spacingAndGlyphs">Unknown</text>
<rect x="174.5" y="246" width="32.5" height="3.0" fill="#52a7dd"/>
<rect x="174.5" y="252.2" width="32.5" height="3.0" fill="#52a7dd"/>
<rect x="174.5" y="258.3" width="32.5" height="3.0" fill="#52a7dd"/>
<rect x="174.5" y="264.3" width="32.5" height="3.0" fill="#52a7dd"/>
<line x1="173" y1="269.1" x2="207.6" y2="269.1" stroke="#cfcfcf" stroke-width="0.8"/>
<text x="176.6" y="274.2" font-family="Liberation Sans" font-size="5" fill="#555" text-anchor="middle" textLength="6.3" lengthAdjust="spacingAndGlyphs">300</text>
<text x="187.3" y="274.2" font-family="Liberation Sans" font-size="5" fill="#555" text-anchor="middle" textLength="6.3" lengthAdjust="spacingAndGlyphs">200</text>
<text x="197.8" y="274.2" font-family="Liberation Sans" font-size="5" fill="#555" text-anchor="middle" textLength="6.3" lengthAdjust="spacingAndGlyphs">100</text>
<text x="207" y="274.2" font-family="Liberation Sans" font-size="5" fill="#555" text-anchor="middle" textLength="2.1" lengthAdjust="spacingAndGlyphs">0</text>
<text x="186.1" y="277.25" font-family="Liberation Sans" font-size="5" fill="#333" textLength="12.8" lengthAdjust="spacingAndGlyphs">Set Size</text>
<clipPath id="c3"><ellipse cx="304" cy="195.6" rx="29.7" ry="20.1"/></clipPath>
<ellipse cx="304" cy="195.6" rx="29.7" ry="20.1" fill="#fbf7d1"/>
<ellipse cx="304.2" cy="195.6" rx="29.6" ry="20" fill="#c9e3bc"/>
<ellipse clip-path="url(#c3)" cx="304.2" cy="195.6" rx="29.6" ry="20" fill="#f2f0c7"/>
<ellipse cx="304" cy="195.6" rx="29.7" ry="20.1" fill="none" stroke="#262626" stroke-width="0.75" stroke-dasharray="0.7 0.9"/>
<ellipse cx="304.2" cy="195.6" rx="29.6" ry="20" fill="none" stroke="#262626" stroke-width="0.75" stroke-dasharray="0.7 0.9"/>
<line x1="274.6" y1="199" x2="274.6" y2="214.6" stroke="#777" stroke-width="0.5"/>
<line x1="332.9" y1="199" x2="332.9" y2="214.6" stroke="#777" stroke-width="0.5"/>
<text x="270.5" y="180" font-family="Liberation Serif" font-size="5.8" fill="#111" textLength="11.3" lengthAdjust="spacingAndGlyphs">CBD</text>
<text x="320.8" y="179.5" font-family="Liberation Serif" font-size="5.8" fill="#111" textLength="11.7" lengthAdjust="spacingAndGlyphs">Fiber</text>
<text x="300.5" y="199" font-family="Liberation Serif" font-size="6" fill="#000" textLength="8.8" lengthAdjust="spacingAndGlyphs" font-weight="bold">308</text>
<text x="273.5" y="219.4" font-family="Liberation Serif" font-size="6" fill="#000" textLength="2.5" lengthAdjust="spacingAndGlyphs" font-weight="bold">2</text>
<text x="332.2" y="220.4" font-family="Liberation Serif" font-size="6" fill="#000" textLength="2.9" lengthAdjust="spacingAndGlyphs" font-weight="bold">5</text>
<path d="M509.95,32.7 H342.8 V154.4 H509.95" fill="none" stroke="#4a4a4a" stroke-width="1.15"/>
<line x1="509.95" y1="32.15" x2="509.95" y2="154.95" stroke="#6a6a6a" stroke-width="1.6"/>
<text x="348.6" y="48.8" font-family="Liberation Sans" font-size="8.8" fill="#1a1a1a" textLength="14.8" lengthAdjust="spacingAndGlyphs">Leaf</text>
<rect x="404.4" y="124" width="97.8" height="6" fill="#f3f3f3"/>
<rect x="404.4" y="136.2" width="97.8" height="6" fill="#f3f3f3"/>
<line x1="404.4" y1="43.2" x2="404.4" y2="117.5" stroke="#c4c4c4" stroke-width="0.8"/>
<line x1="403.4" y1="102.55" x2="404.4" y2="102.55" stroke="#aaa" stroke-width="0.6"/>
<text x="400.9" y="105.85" font-family="Liberation Sans" font-size="6" fill="#4a4a4a" text-anchor="end" textLength="5.8" lengthAdjust="spacingAndGlyphs">10</text>
<line x1="403.4" y1="87.6" x2="404.4" y2="87.6" stroke="#aaa" stroke-width="0.6"/>
<text x="400.9" y="90.9" font-family="Liberation Sans" font-size="6" fill="#4a4a4a" text-anchor="end" textLength="5.8" lengthAdjust="spacingAndGlyphs">20</text>
<line x1="403.4" y1="72.65" x2="404.4" y2="72.65" stroke="#aaa" stroke-width="0.6"/>
<text x="400.9" y="75.95" font-family="Liberation Sans" font-size="6" fill="#4a4a4a" text-anchor="end" textLength="5.8" lengthAdjust="spacingAndGlyphs">30</text>
<line x1="403.4" y1="57.7" x2="404.4" y2="57.7" stroke="#aaa" stroke-width="0.6"/>
<text x="400.9" y="61" font-family="Liberation Sans" font-size="6" fill="#4a4a4a" text-anchor="end" textLength="5.8" lengthAdjust="spacingAndGlyphs">40</text>
<text transform="translate(385.7,71) rotate(-90)" x="0" y="0" font-family="Liberation Sans" font-size="5.6" fill="#1e1e1e" stroke="#1e1e1e" stroke-width="0.12" text-anchor="middle" textLength="40.7" lengthAdjust="spacingAndGlyphs">Intersection Size</text>
<line x1="404.4" y1="117.5" x2="502.2" y2="117.5" stroke="#555" stroke-width="0.7"/>
<rect x="409" y="53.21" width="4" height="64.29" fill="#383838"/>
<text x="411" y="51.51" font-family="Liberation Sans" font-size="5.9" fill="#2a2a2a" text-anchor="middle" textLength="5.6" lengthAdjust="spacingAndGlyphs">43</text>
<rect x="415.12" y="95.08" width="4" height="22.43" fill="#383838"/>
<text x="417.12" y="93.38" font-family="Liberation Sans" font-size="5.9" fill="#2a2a2a" text-anchor="middle" textLength="5.6" lengthAdjust="spacingAndGlyphs">15</text>
<rect x="421.24" y="96.57" width="4" height="20.93" fill="#383838"/>
<text x="423.24" y="94.87" font-family="Liberation Sans" font-size="5.9" fill="#2a2a2a" text-anchor="middle" textLength="5.6" lengthAdjust="spacingAndGlyphs">14</text>
<rect x="427.36" y="101.06" width="4" height="16.45" fill="#383838"/>
<text x="429.36" y="99.36" font-family="Liberation Sans" font-size="5.9" fill="#2a2a2a" text-anchor="middle" textLength="5.6" lengthAdjust="spacingAndGlyphs">11</text>
<rect x="433.48" y="108.53" width="4" height="8.97" fill="#383838"/>
<text x="435.48" y="106.83" font-family="Liberation Sans" font-size="5.9" fill="#2a2a2a" text-anchor="middle" textLength="2.8" lengthAdjust="spacingAndGlyphs">6</text>
<rect x="439.6" y="110.03" width="4" height="7.48" fill="#383838"/>
<text x="441.6" y="108.33" font-family="Liberation Sans" font-size="5.9" fill="#2a2a2a" text-anchor="middle" textLength="2.8" lengthAdjust="spacingAndGlyphs">5</text>
<rect x="445.72" y="111.52" width="4" height="5.98" fill="#383838"/>
<text x="447.72" y="109.82" font-family="Liberation Sans" font-size="5.9" fill="#2a2a2a" text-anchor="middle" textLength="2.8" lengthAdjust="spacingAndGlyphs">4</text>
<rect x="451.84" y="111.52" width="4" height="5.98" fill="#383838"/>
<text x="453.84" y="109.82" font-family="Liberation Sans" font-size="5.9" fill="#2a2a2a" text-anchor="middle" textLength="2.8" lengthAdjust="spacingAndGlyphs">4</text>
<rect x="457.96" y="116" width="4" height="1.5" fill="#383838"/>
<text x="459.96" y="114.3" font-family="Liberation Sans" font-size="5.9" fill="#2a2a2a" text-anchor="middle" textLength="2.8" lengthAdjust="spacingAndGlyphs">1</text>
<rect x="464.08" y="116" width="4" height="1.5" fill="#383838"/>
<text x="466.08" y="114.3" font-family="Liberation Sans" font-size="5.9" fill="#2a2a2a" text-anchor="middle" textLength="2.8" lengthAdjust="spacingAndGlyphs">1</text>
<rect x="470.2" y="116" width="4" height="1.5" fill="#383838"/>
<text x="472.2" y="114.3" font-family="Liberation Sans" font-size="5.9" fill="#2a2a2a" text-anchor="middle" textLength="2.8" lengthAdjust="spacingAndGlyphs">1</text>
<rect x="476.32" y="116" width="4" height="1.5" fill="#383838"/>
<text x="478.32" y="114.3" font-family="Liberation Sans" font-size="5.9" fill="#2a2a2a" text-anchor="middle" textLength="2.8" lengthAdjust="spacingAndGlyphs">1</text>
<rect x="482.44" y="116" width="4" height="1.5" fill="#383838"/>
<text x="484.44" y="114.3" font-family="Liberation Sans" font-size="5.9" fill="#2a2a2a" text-anchor="middle" textLength="2.8" lengthAdjust="spacingAndGlyphs">1</text>
<rect x="488.56" y="116" width="4" height="1.5" fill="#383838"/>
<text x="490.56" y="114.3" font-family="Liberation Sans" font-size="5.9" fill="#2a2a2a" text-anchor="middle" textLength="2.8" lengthAdjust="spacingAndGlyphs">1</text>
<text x="496.68" y="115.8" font-family="Liberation Sans" font-size="5.9" fill="#2a2a2a" text-anchor="middle" textLength="2.8" lengthAdjust="spacingAndGlyphs">0</text>
<line x1="411" y1="120.8" x2="411" y2="139.2" stroke="#3a3a3a" stroke-width="0.85"/>
<circle cx="411" cy="120.8" r="1.05" fill="#2a2a2a"/>
<circle cx="411" cy="127" r="1.05" fill="#2a2a2a"/>
<circle cx="411" cy="133.1" r="1.05" fill="#2a2a2a"/>
<circle cx="411" cy="139.2" r="1.05" fill="#2a2a2a"/>
<circle cx="417.12" cy="120.8" r="0.95" fill="#dcdcdc"/>
<circle cx="417.12" cy="127" r="0.95" fill="#dcdcdc"/>
<line x1="417.12" y1="133.1" x2="417.12" y2="139.2" stroke="#3a3a3a" stroke-width="0.85"/>
<circle cx="417.12" cy="133.1" r="1.05" fill="#2a2a2a"/>
<circle cx="417.12" cy="139.2" r="1.05" fill="#2a2a2a"/>
<circle cx="423.24" cy="120.8" r="0.95" fill="#dcdcdc"/>
<circle cx="423.24" cy="127" r="0.95" fill="#dcdcdc"/>
<circle cx="423.24" cy="133.1" r="0.95" fill="#dcdcdc"/>
<circle cx="423.24" cy="139.2" r="1.05" fill="#2a2a2a"/>
<circle cx="429.36" cy="120.8" r="0.95" fill="#dcdcdc"/>
<line x1="429.36" y1="127" x2="429.36" y2="139.2" stroke="#3a3a3a" stroke-width="0.85"/>
<circle cx="429.36" cy="127" r="1.05" fill="#2a2a2a"/>
<circle cx="429.36" cy="133.1" r="1.05" fill="#2a2a2a"/>
<circle cx="429.36" cy="139.2" r="1.05" fill="#2a2a2a"/>
<circle cx="435.48" cy="120.8" r="0.95" fill="#dcdcdc"/>
<circle cx="435.48" cy="133.1" r="0.95" fill="#dcdcdc"/>
<line x1="435.48" y1="127" x2="435.48" y2="139.2" stroke="#3a3a3a" stroke-width="0.85"/>
<circle cx="435.48" cy="127" r="1.05" fill="#2a2a2a"/>
<circle cx="435.48" cy="139.2" r="1.05" fill="#2a2a2a"/>
<circle cx="441.6" cy="120.8" r="0.95" fill="#dcdcdc"/>
<circle cx="441.6" cy="127" r="0.95" fill="#dcdcdc"/>
<circle cx="441.6" cy="139.2" r="0.95" fill="#dcdcdc"/>
<circle cx="441.6" cy="133.1" r="1.05" fill="#2a2a2a"/>
<circle cx="447.72" cy="120.8" r="0.95" fill="#dcdcdc"/>
<circle cx="447.72" cy="133.1" r="0.95" fill="#dcdcdc"/>
<circle cx="447.72" cy="139.2" r="0.95" fill="#dcdcdc"/>
<circle cx="447.72" cy="127" r="1.05" fill="#2a2a2a"/>
<circle cx="453.84" cy="133.1" r="0.95" fill="#dcdcdc"/>
<line x1="453.84" y1="120.8" x2="453.84" y2="139.2" stroke="#3a3a3a" stroke-width="0.85"/>
<circle cx="453.84" cy="120.8" r="1.05" fill="#2a2a2a"/>
<circle cx="453.84" cy="127" r="1.05" fill="#2a2a2a"/>
<circle cx="453.84" cy="139.2" r="1.05" fill="#2a2a2a"/>
<circle cx="459.96" cy="127" r="0.95" fill="#dcdcdc"/>
<circle cx="459.96" cy="133.1" r="0.95" fill="#dcdcdc"/>
<circle cx="459.96" cy="139.2" r="0.95" fill="#dcdcdc"/>
<circle cx="459.96" cy="120.8" r="1.05" fill="#2a2a2a"/>
<circle cx="466.08" cy="133.1" r="0.95" fill="#dcdcdc"/>
<circle cx="466.08" cy="139.2" r="0.95" fill="#dcdcdc"/>
<line x1="466.08" y1="120.8" x2="466.08" y2="127" stroke="#3a3a3a" stroke-width="0.85"/>
<circle cx="466.08" cy="120.8" r="1.05" fill="#2a2a2a"/>
<circle cx="466.08" cy="127" r="1.05" fill="#2a2a2a"/>
<circle cx="472.2" cy="120.8" r="0.95" fill="#dcdcdc"/>
<circle cx="472.2" cy="139.2" r="0.95" fill="#dcdcdc"/>
<line x1="472.2" y1="127" x2="472.2" y2="133.1" stroke="#3a3a3a" stroke-width="0.85"/>
<circle cx="472.2" cy="127" r="1.05" fill="#2a2a2a"/>
<circle cx="472.2" cy="133.1" r="1.05" fill="#2a2a2a"/>
<circle cx="478.32" cy="139.2" r="0.95" fill="#dcdcdc"/>
<line x1="478.32" y1="120.8" x2="478.32" y2="133.1" stroke="#3a3a3a" stroke-width="0.85"/>
<circle cx="478.32" cy="120.8" r="1.05" fill="#2a2a2a"/>
<circle cx="478.32" cy="127" r="1.05" fill="#2a2a2a"/>
<circle cx="478.32" cy="133.1" r="1.05" fill="#2a2a2a"/>
<circle cx="484.44" cy="127" r="0.95" fill="#dcdcdc"/>
<circle cx="484.44" cy="133.1" r="0.95" fill="#dcdcdc"/>
<line x1="484.44" y1="120.8" x2="484.44" y2="139.2" stroke="#3a3a3a" stroke-width="0.85"/>
<circle cx="484.44" cy="120.8" r="1.05" fill="#2a2a2a"/>
<circle cx="484.44" cy="139.2" r="1.05" fill="#2a2a2a"/>
<circle cx="490.56" cy="127" r="0.95" fill="#dcdcdc"/>
<line x1="490.56" y1="120.8" x2="490.56" y2="139.2" stroke="#3a3a3a" stroke-width="0.85"/>
<circle cx="490.56" cy="120.8" r="1.05" fill="#2a2a2a"/>
<circle cx="490.56" cy="133.1" r="1.05" fill="#2a2a2a"/>
<circle cx="490.56" cy="139.2" r="1.05" fill="#2a2a2a"/>
<circle cx="496.68" cy="139.2" r="0.95" fill="#dcdcdc"/>
<line x1="496.68" y1="120.8" x2="496.68" y2="133.1" stroke="#3a3a3a" stroke-width="0.85"/>
<circle cx="496.68" cy="120.8" r="1.05" fill="#2a2a2a"/>
<circle cx="496.68" cy="127" r="1.05" fill="#2a2a2a"/>
<circle cx="496.68" cy="133.1" r="1.05" fill="#2a2a2a"/>
<text x="382.8" y="121.7" font-family="Liberation Sans" font-size="3.4" fill="#505050" textLength="13.4" lengthAdjust="spacingAndGlyphs">Sweet Sand</text>
<text x="382.8" y="127.9" font-family="Liberation Sans" font-size="3.4" fill="#505050" textLength="14.5" lengthAdjust="spacingAndGlyphs">Cherry Wine</text>
<text x="382.8" y="134" font-family="Liberation Sans" font-size="3.4" fill="#505050" textLength="11.2" lengthAdjust="spacingAndGlyphs">Unknown</text>
<text x="382.8" y="140.1" font-family="Liberation Sans" font-size="3.4" fill="#505050" textLength="22.3" lengthAdjust="spacingAndGlyphs">American History-1</text>
<rect x="363.3" y="119.3" width="18.1" height="3.0" fill="#52a7dd"/>
<rect x="357.1" y="125.5" width="24.3" height="3.0" fill="#52a7dd"/>
<rect x="355" y="131.6" width="26.4" height="3.0" fill="#52a7dd"/>
<rect x="349" y="137.7" width="32.4" height="3.0" fill="#52a7dd"/>
<line x1="347" y1="142.4" x2="382" y2="142.4" stroke="#cfcfcf" stroke-width="0.8"/>
<text x="357" y="147.4" font-family="Liberation Sans" font-size="5" fill="#555" text-anchor="middle" textLength="4.9" lengthAdjust="spacingAndGlyphs">75</text>
<text x="365.6" y="147.4" font-family="Liberation Sans" font-size="5" fill="#555" text-anchor="middle" textLength="4.9" lengthAdjust="spacingAndGlyphs">50</text>
<text x="374.1" y="147.4" font-family="Liberation Sans" font-size="5" fill="#555" text-anchor="middle" textLength="4.9" lengthAdjust="spacingAndGlyphs">25</text>
<text x="381.5" y="147.4" font-family="Liberation Sans" font-size="5" fill="#555" text-anchor="middle" textLength="2.45" lengthAdjust="spacingAndGlyphs">0</text>
<text x="357.75" y="151.45" font-family="Liberation Sans" font-size="5" fill="#333" textLength="15.5" lengthAdjust="spacingAndGlyphs">Set Size</text>
<clipPath id="c4"><ellipse cx="472.4" cy="62.9" rx="26.8" ry="18.3"/></clipPath>
<ellipse cx="472.4" cy="62.9" rx="26.8" ry="18.3" fill="#fbf7d1"/>
<ellipse cx="478" cy="62.9" rx="26.5" ry="18" fill="#c9e3bc"/>
<ellipse clip-path="url(#c4)" cx="478" cy="62.9" rx="26.5" ry="18" fill="#c9e3bc"/>
<ellipse cx="472.4" cy="62.9" rx="26.8" ry="18.3" fill="none" stroke="#262626" stroke-width="0.75" stroke-dasharray="0.7 0.9"/>
<ellipse cx="478" cy="62.9" rx="26.5" ry="18" fill="none" stroke="#262626" stroke-width="0.75" stroke-dasharray="0.7 0.9"/>
<text x="440" y="49.4" font-family="Liberation Serif" font-size="5.8" fill="#111" textLength="11.5" lengthAdjust="spacingAndGlyphs">CBD</text>
<text x="493.7" y="49.4" font-family="Liberation Serif" font-size="5.8" fill="#111" textLength="11.6" lengthAdjust="spacingAndGlyphs">Fiber</text>
<text x="446" y="66.3" font-family="Liberation Serif" font-size="6" fill="#000" textLength="5.5" lengthAdjust="spacingAndGlyphs" font-weight="bold">16</text>
<text x="474.5" y="66.3" font-family="Liberation Serif" font-size="6" fill="#000" textLength="5.6" lengthAdjust="spacingAndGlyphs" font-weight="bold">82</text>
<text x="500.3" y="66.3" font-family="Liberation Serif" font-size="6" fill="#000" textLength="5.5" lengthAdjust="spacingAndGlyphs" font-weight="bold">10</text>
<path d="M679.85,32.9 H514.25 V154.6 H679.85" fill="none" stroke="#4a4a4a" stroke-width="1.15"/>
<line x1="679.85" y1="32.35" x2="679.85" y2="155.15" stroke="#6a6a6a" stroke-width="1.6"/>
<text x="520.6" y="47.1" font-family="Liberation Sans" font-size="8.8" fill="#1a1a1a" textLength="16.2" lengthAdjust="spacingAndGlyphs">Root</text>
<rect x="573.4" y="124" width="97.8" height="6" fill="#f3f3f3"/>
<rect x="573.4" y="136.4" width="97.8" height="6" fill="#f3f3f3"/>
<line x1="573.4" y1="43.2" x2="573.4" y2="117.4" stroke="#c4c4c4" stroke-width="0.8"/>
<line x1="572.4" y1="98.7" x2="573.4" y2="98.7" stroke="#aaa" stroke-width="0.6"/>
<text x="569.9" y="102" font-family="Liberation Sans" font-size="6" fill="#4a4a4a" text-anchor="end" textLength="5.8" lengthAdjust="spacingAndGlyphs">20</text>
<line x1="572.4" y1="80" x2="573.4" y2="80" stroke="#aaa" stroke-width="0.6"/>
<text x="569.9" y="83.3" font-family="Liberation Sans" font-size="6" fill="#4a4a4a" text-anchor="end" textLength="5.8" lengthAdjust="spacingAndGlyphs">40</text>
<line x1="572.4" y1="61.3" x2="573.4" y2="61.3" stroke="#aaa" stroke-width="0.6"/>
<text x="569.9" y="64.6" font-family="Liberation Sans" font-size="6" fill="#4a4a4a" text-anchor="end" textLength="5.8" lengthAdjust="spacingAndGlyphs">60</text>
<text transform="translate(553.5,71.6) rotate(-90)" x="0" y="0" font-family="Liberation Sans" font-size="5.6" fill="#1e1e1e" stroke="#1e1e1e" stroke-width="0.12" text-anchor="middle" textLength="41.5" lengthAdjust="spacingAndGlyphs">Intersection Size</text>
<line x1="573.4" y1="117.4" x2="671.2" y2="117.4" stroke="#555" stroke-width="0.7"/>
<rect x="577.1" y="52.89" width="4" height="64.52" fill="#383838"/>
<text x="579.1" y="51.79" font-family="Liberation Sans" font-size="5.9" fill="#2a2a2a" text-anchor="middle" textLength="5.6" lengthAdjust="spacingAndGlyphs">69</text>
<rect x="583.24" y="108.05" width="4" height="9.35" fill="#383838"/>
<text x="585.24" y="106.95" font-family="Liberation Sans" font-size="5.9" fill="#2a2a2a" text-anchor="middle" textLength="5.6" lengthAdjust="spacingAndGlyphs">10</text>
<rect x="589.38" y="110.86" width="4" height="6.54" fill="#383838"/>
<text x="591.38" y="109.76" font-family="Liberation Sans" font-size="5.9" fill="#2a2a2a" text-anchor="middle" textLength="2.8" lengthAdjust="spacingAndGlyphs">7</text>
<rect x="595.52" y="111.79" width="4" height="5.61" fill="#383838"/>
<text x="597.52" y="110.69" font-family="Liberation Sans" font-size="5.9" fill="#2a2a2a" text-anchor="middle" textLength="2.8" lengthAdjust="spacingAndGlyphs">6</text>
<rect x="601.66" y="113.66" width="4" height="3.74" fill="#383838"/>
<text x="603.66" y="112.56" font-family="Liberation Sans" font-size="5.9" fill="#2a2a2a" text-anchor="middle" textLength="2.8" lengthAdjust="spacingAndGlyphs">4</text>
<rect x="607.8" y="114.59" width="4" height="2.81" fill="#383838"/>
<text x="609.8" y="113.5" font-family="Liberation Sans" font-size="5.9" fill="#2a2a2a" text-anchor="middle" textLength="2.8" lengthAdjust="spacingAndGlyphs">3</text>
<rect x="613.94" y="114.59" width="4" height="2.81" fill="#383838"/>
<text x="615.94" y="113.5" font-family="Liberation Sans" font-size="5.9" fill="#2a2a2a" text-anchor="middle" textLength="2.8" lengthAdjust="spacingAndGlyphs">3</text>
<rect x="620.08" y="115.53" width="4" height="1.87" fill="#383838"/>
<text x="622.08" y="114.43" font-family="Liberation Sans" font-size="5.9" fill="#2a2a2a" text-anchor="middle" textLength="2.8" lengthAdjust="spacingAndGlyphs">2</text>
<rect x="626.22" y="115.53" width="4" height="1.87" fill="#383838"/>
<text x="628.22" y="114.43" font-family="Liberation Sans" font-size="5.9" fill="#2a2a2a" text-anchor="middle" textLength="2.8" lengthAdjust="spacingAndGlyphs">2</text>
<rect x="632.36" y="115.53" width="4" height="1.87" fill="#383838"/>
<text x="634.36" y="114.43" font-family="Liberation Sans" font-size="5.9" fill="#2a2a2a" text-anchor="middle" textLength="2.8" lengthAdjust="spacingAndGlyphs">2</text>
<rect x="638.5" y="116.47" width="4" height="0.94" fill="#383838"/>
<text x="640.5" y="115.37" font-family="Liberation Sans" font-size="5.9" fill="#2a2a2a" text-anchor="middle" textLength="2.8" lengthAdjust="spacingAndGlyphs">1</text>
<text x="646.64" y="116.3" font-family="Liberation Sans" font-size="5.9" fill="#2a2a2a" text-anchor="middle" textLength="2.8" lengthAdjust="spacingAndGlyphs">0</text>
<text x="652.78" y="116.3" font-family="Liberation Sans" font-size="5.9" fill="#2a2a2a" text-anchor="middle" textLength="2.8" lengthAdjust="spacingAndGlyphs">0</text>
<text x="658.92" y="116.3" font-family="Liberation Sans" font-size="5.9" fill="#2a2a2a" text-anchor="middle" textLength="2.8" lengthAdjust="spacingAndGlyphs">0</text>
<text x="665.06" y="116.3" font-family="Liberation Sans" font-size="5.9" fill="#2a2a2a" text-anchor="middle" textLength="2.8" lengthAdjust="spacingAndGlyphs">0</text>
<line x1="579.1" y1="120.8" x2="579.1" y2="139.4" stroke="#3a3a3a" stroke-width="0.85"/>
<circle cx="579.1" cy="120.8" r="1.05" fill="#2a2a2a"/>
<circle cx="579.1" cy="127" r="1.05" fill="#2a2a2a"/>
<circle cx="579.1" cy="133.2" r="1.05" fill="#2a2a2a"/>
<circle cx="579.1" cy="139.4" r="1.05" fill="#2a2a2a"/>
<circle cx="585.24" cy="120.8" r="0.95" fill="#dcdcdc"/>
<circle cx="585.24" cy="127" r="0.95" fill="#dcdcdc"/>
<line x1="585.24" y1="133.2" x2="585.24" y2="139.4" stroke="#3a3a3a" stroke-width="0.85"/>
<circle cx="585.24" cy="133.2" r="1.05" fill="#2a2a2a"/>
<circle cx="585.24" cy="139.4" r="1.05" fill="#2a2a2a"/>
<circle cx="591.38" cy="120.8" r="0.95" fill="#dcdcdc"/>
<circle cx="591.38" cy="127" r="0.95" fill="#dcdcdc"/>
<circle cx="591.38" cy="139.4" r="0.95" fill="#dcdcdc"/>
<circle cx="591.38" cy="133.2" r="1.05" fill="#2a2a2a"/>
<circle cx="597.52" cy="120.8" r="0.95" fill="#dcdcdc"/>
<circle cx="597.52" cy="127" r="0.95" fill="#dcdcdc"/>
<circle cx="597.52" cy="133.2" r="0.95" fill="#dcdcdc"/>
<circle cx="597.52" cy="139.4" r="1.05" fill="#2a2a2a"/>
<circle cx="603.66" cy="120.8" r="0.95" fill="#dcdcdc"/>
<circle cx="603.66" cy="133.2" r="0.95" fill="#dcdcdc"/>
<line x1="603.66" y1="127" x2="603.66" y2="139.4" stroke="#3a3a3a" stroke-width="0.85"/>
<circle cx="603.66" cy="127" r="1.05" fill="#2a2a2a"/>
<circle cx="603.66" cy="139.4" r="1.05" fill="#2a2a2a"/>
<circle cx="609.8" cy="127" r="0.95" fill="#dcdcdc"/>
<circle cx="609.8" cy="133.2" r="0.95" fill="#dcdcdc"/>
<line x1="609.8" y1="120.8" x2="609.8" y2="139.4" stroke="#3a3a3a" stroke-width="0.85"/>
<circle cx="609.8" cy="120.8" r="1.05" fill="#2a2a2a"/>
<circle cx="609.8" cy="139.4" r="1.05" fill="#2a2a2a"/>
<circle cx="615.94" cy="120.8" r="0.95" fill="#dcdcdc"/>
<line x1="615.94" y1="127" x2="615.94" y2="139.4" stroke="#3a3a3a" stroke-width="0.85"/>
<circle cx="615.94" cy="127" r="1.05" fill="#2a2a2a"/>
<circle cx="615.94" cy="133.2" r="1.05" fill="#2a2a2a"/>
<circle cx="615.94" cy="139.4" r="1.05" fill="#2a2a2a"/>
<circle cx="622.08" cy="120.8" r="0.95" fill="#dcdcdc"/>
<circle cx="622.08" cy="133.2" r="0.95" fill="#dcdcdc"/>
<circle cx="622.08" cy="139.4" r="0.95" fill="#dcdcdc"/>
<circle cx="622.08" cy="127" r="1.05" fill="#2a2a2a"/>
<circle cx="628.22" cy="127" r="0.95" fill="#dcdcdc"/>
<circle cx="628.22" cy="133.2" r="0.95" fill="#dcdcdc"/>
<line x1="628.22" y1="120.8" x2="628.22" y2="139.4" stroke="#3a3a3a" stroke-width="0.85"/>
<circle cx="628.22" cy="120.8" r="1.05" fill="#2a2a2a"/>
<circle cx="628.22" cy="139.4" r="1.05" fill="#2a2a2a"/>
<circle cx="634.36" cy="127" r="0.95" fill="#dcdcdc"/>
<line x1="634.36" y1="120.8" x2="634.36" y2="139.4" stroke="#3a3a3a" stroke-width="0.85"/>
<circle cx="634.36" cy="120.8" r="1.05" fill="#2a2a2a"/>
<circle cx="634.36" cy="133.2" r="1.05" fill="#2a2a2a"/>
<circle cx="634.36" cy="139.4" r="1.05" fill="#2a2a2a"/>
<circle cx="640.5" cy="127" r="0.95" fill="#dcdcdc"/>
<circle cx="640.5" cy="133.2" r="0.95" fill="#dcdcdc"/>
<circle cx="640.5" cy="139.4" r="0.95" fill="#dcdcdc"/>
<circle cx="640.5" cy="120.8" r="1.05" fill="#2a2a2a"/>
<circle cx="646.64" cy="120.8" r="0.95" fill="#dcdcdc"/>
<circle cx="646.64" cy="139.4" r="0.95" fill="#dcdcdc"/>
<line x1="646.64" y1="127" x2="646.64" y2="133.2" stroke="#3a3a3a" stroke-width="0.85"/>
<circle cx="646.64" cy="127" r="1.05" fill="#2a2a2a"/>
<circle cx="646.64" cy="133.2" r="1.05" fill="#2a2a2a"/>
<circle cx="652.78" cy="127" r="0.95" fill="#dcdcdc"/>
<circle cx="652.78" cy="139.4" r="0.95" fill="#dcdcdc"/>
<line x1="652.78" y1="120.8" x2="652.78" y2="133.2" stroke="#3a3a3a" stroke-width="0.85"/>
<circle cx="652.78" cy="120.8" r="1.05" fill="#2a2a2a"/>
<circle cx="652.78" cy="133.2" r="1.05" fill="#2a2a2a"/>
<circle cx="658.92" cy="133.2" r="0.95" fill="#dcdcdc"/>
<circle cx="658.92" cy="139.4" r="0.95" fill="#dcdcdc"/>
<line x1="658.92" y1="120.8" x2="658.92" y2="127" stroke="#3a3a3a" stroke-width="0.85"/>
<circle cx="658.92" cy="120.8" r="1.05" fill="#2a2a2a"/>
<circle cx="658.92" cy="127" r="1.05" fill="#2a2a2a"/>
<circle cx="665.06" cy="139.4" r="0.95" fill="#dcdcdc"/>
<line x1="665.06" y1="120.8" x2="665.06" y2="133.2" stroke="#3a3a3a" stroke-width="0.85"/>
<circle cx="665.06" cy="120.8" r="1.05" fill="#2a2a2a"/>
<circle cx="665.06" cy="127" r="1.05" fill="#2a2a2a"/>
<circle cx="665.06" cy="133.2" r="1.05" fill="#2a2a2a"/>
<text x="552" y="121.7" font-family="Liberation Sans" font-size="3.4" fill="#505050" textLength="14.5" lengthAdjust="spacingAndGlyphs">Cherry Wine</text>
<text x="552" y="127.9" font-family="Liberation Sans" font-size="3.4" fill="#505050" textLength="22.3" lengthAdjust="spacingAndGlyphs">American History-1</text>
<text x="552" y="134.1" font-family="Liberation Sans" font-size="3.4" fill="#505050" textLength="11.2" lengthAdjust="spacingAndGlyphs">Unknown</text>
<text x="552" y="140.3" font-family="Liberation Sans" font-size="3.4" fill="#505050" textLength="13.4" lengthAdjust="spacingAndGlyphs">Sweet Sand</text>
<rect x="524.3" y="119.3" width="25.5" height="3.0" fill="#52a7dd"/>
<rect x="523.1" y="125.5" width="26.7" height="3.0" fill="#52a7dd"/>
<rect x="520.1" y="131.7" width="29.7" height="3.0" fill="#52a7dd"/>
<rect x="517.3" y="137.9" width="32.5" height="3.0" fill="#52a7dd"/>
<line x1="516" y1="142.4" x2="550.4" y2="142.4" stroke="#cfcfcf" stroke-width="0.8"/>
<text x="518.9" y="147.2" font-family="Liberation Sans" font-size="5" fill="#555" text-anchor="middle" textLength="6" lengthAdjust="spacingAndGlyphs">100</text>
<text x="526" y="147.2" font-family="Liberation Sans" font-size="5" fill="#555" text-anchor="middle" textLength="4" lengthAdjust="spacingAndGlyphs">75</text>
<text x="534.4" y="147.2" font-family="Liberation Sans" font-size="5" fill="#555" text-anchor="middle" textLength="4" lengthAdjust="spacingAndGlyphs">50</text>
<text x="542.3" y="147.2" font-family="Liberation Sans" font-size="5" fill="#555" text-anchor="middle" textLength="4" lengthAdjust="spacingAndGlyphs">25</text>
<text x="550.2" y="147.2" font-family="Liberation Sans" font-size="5" fill="#555" text-anchor="middle" textLength="2" lengthAdjust="spacingAndGlyphs">0</text>
<text x="525.2" y="152.85" font-family="Liberation Sans" font-size="5" fill="#333" textLength="13.6" lengthAdjust="spacingAndGlyphs">Set Size</text>
<clipPath id="c5"><ellipse cx="638.65" cy="64.55" rx="27.05" ry="18.8"/></clipPath>
<ellipse cx="638.65" cy="64.55" rx="27.05" ry="18.8" fill="#fbf7d1"/>
<ellipse cx="643.5" cy="64.55" rx="26.5" ry="18.75" fill="#c9e3bc"/>
<ellipse clip-path="url(#c5)" cx="643.5" cy="64.55" rx="26.5" ry="18.75" fill="#c9e3bc"/>
<ellipse cx="638.65" cy="64.55" rx="27.05" ry="18.8" fill="none" stroke="#262626" stroke-width="0.75" stroke-dasharray="0.7 0.9"/>
<ellipse cx="643.5" cy="64.55" rx="26.5" ry="18.75" fill="none" stroke="#262626" stroke-width="0.75" stroke-dasharray="0.7 0.9"/>
<text x="607.8" y="51.8" font-family="Liberation Serif" font-size="5.8" fill="#111" textLength="11.5" lengthAdjust="spacingAndGlyphs">CBD</text>
<text x="662" y="50.6" font-family="Liberation Serif" font-size="5.8" fill="#111" textLength="11.2" lengthAdjust="spacingAndGlyphs">Fiber</text>
<text x="609.8" y="67.6" font-family="Liberation Serif" font-size="6" fill="#000" textLength="5.5" lengthAdjust="spacingAndGlyphs" font-weight="bold">12</text>
<text x="639.8" y="67.6" font-family="Liberation Serif" font-size="6" fill="#000" textLength="6" lengthAdjust="spacingAndGlyphs" font-weight="bold">89</text>
<text x="667.9" y="67.7" font-family="Liberation Serif" font-size="6" fill="#000" textLength="2.8" lengthAdjust="spacingAndGlyphs" font-weight="bold">8</text>
<path d="M510.5,157 H342.65 V279.45 H510.5" fill="none" stroke="#4a4a4a" stroke-width="1.15"/>
<line x1="510.5" y1="156.45" x2="510.5" y2="280" stroke="#6a6a6a" stroke-width="1.6"/>
<text x="347.1" y="174" font-family="Liberation Sans" font-size="8.8" fill="#1a1a1a" textLength="18.1" lengthAdjust="spacingAndGlyphs">Stem</text>
<rect x="401.4" y="250.1" width="98.1" height="6" fill="#f3f3f3"/>
<rect x="401.4" y="262.3" width="98.1" height="6" fill="#f3f3f3"/>
<line x1="401.4" y1="169" x2="401.4" y2="243.5" stroke="#c4c4c4" stroke-width="0.8"/>
<line x1="400.4" y1="221" x2="401.4" y2="221" stroke="#aaa" stroke-width="0.6"/>
<text x="397.9" y="224.3" font-family="Liberation Sans" font-size="6" fill="#4a4a4a" text-anchor="end" textLength="5.8" lengthAdjust="spacingAndGlyphs">20</text>
<line x1="400.4" y1="198.5" x2="401.4" y2="198.5" stroke="#aaa" stroke-width="0.6"/>
<text x="397.9" y="201.8" font-family="Liberation Sans" font-size="6" fill="#4a4a4a" text-anchor="end" textLength="5.8" lengthAdjust="spacingAndGlyphs">40</text>
<line x1="400.4" y1="176" x2="401.4" y2="176" stroke="#aaa" stroke-width="0.6"/>
<text x="397.9" y="179.3" font-family="Liberation Sans" font-size="6" fill="#4a4a4a" text-anchor="end" textLength="5.8" lengthAdjust="spacingAndGlyphs">60</text>
<text transform="translate(382.2,197.3) rotate(-90)" x="0" y="0" font-family="Liberation Sans" font-size="5.6" fill="#1e1e1e" stroke="#1e1e1e" stroke-width="0.12" text-anchor="middle" textLength="41.5" lengthAdjust="spacingAndGlyphs">Intersection Size</text>
<line x1="401.4" y1="243.5" x2="499.5" y2="243.5" stroke="#555" stroke-width="0.7"/>
<rect x="406.1" y="179.38" width="4" height="64.12" fill="#383838"/>
<text x="408.1" y="178.88" font-family="Liberation Sans" font-size="5.9" fill="#2a2a2a" text-anchor="middle" textLength="5.6" lengthAdjust="spacingAndGlyphs">57</text>
<rect x="412.2" y="228.88" width="4" height="14.62" fill="#383838"/>
<text x="414.2" y="228.38" font-family="Liberation Sans" font-size="5.9" fill="#2a2a2a" text-anchor="middle" textLength="5.6" lengthAdjust="spacingAndGlyphs">13</text>
<rect x="418.3" y="233.38" width="4" height="10.12" fill="#383838"/>
<text x="420.3" y="232.88" font-family="Liberation Sans" font-size="5.9" fill="#2a2a2a" text-anchor="middle" textLength="2.8" lengthAdjust="spacingAndGlyphs">9</text>
<rect x="424.4" y="236.75" width="4" height="6.75" fill="#383838"/>
<text x="426.4" y="236.25" font-family="Liberation Sans" font-size="5.9" fill="#2a2a2a" text-anchor="middle" textLength="2.8" lengthAdjust="spacingAndGlyphs">6</text>
<rect x="430.5" y="237.88" width="4" height="5.62" fill="#383838"/>
<text x="432.5" y="237.38" font-family="Liberation Sans" font-size="5.9" fill="#2a2a2a" text-anchor="middle" textLength="2.8" lengthAdjust="spacingAndGlyphs">5</text>
<rect x="436.6" y="237.88" width="4" height="5.62" fill="#383838"/>
<text x="438.6" y="237.38" font-family="Liberation Sans" font-size="5.9" fill="#2a2a2a" text-anchor="middle" textLength="2.8" lengthAdjust="spacingAndGlyphs">5</text>
<rect x="442.7" y="240.12" width="4" height="3.38" fill="#383838"/>
<text x="444.7" y="239.62" font-family="Liberation Sans" font-size="5.9" fill="#2a2a2a" text-anchor="middle" textLength="2.8" lengthAdjust="spacingAndGlyphs">3</text>
<rect x="448.8" y="240.12" width="4" height="3.38" fill="#383838"/>
<text x="450.8" y="239.62" font-family="Liberation Sans" font-size="5.9" fill="#2a2a2a" text-anchor="middle" textLength="2.8" lengthAdjust="spacingAndGlyphs">3</text>
<rect x="454.9" y="241.25" width="4" height="2.25" fill="#383838"/>
<text x="456.9" y="240.75" font-family="Liberation Sans" font-size="5.9" fill="#2a2a2a" text-anchor="middle" textLength="2.8" lengthAdjust="spacingAndGlyphs">2</text>
<rect x="461" y="241.25" width="4" height="2.25" fill="#383838"/>
<text x="463" y="240.75" font-family="Liberation Sans" font-size="5.9" fill="#2a2a2a" text-anchor="middle" textLength="2.8" lengthAdjust="spacingAndGlyphs">2</text>
<rect x="467.1" y="241.25" width="4" height="2.25" fill="#383838"/>
<text x="469.1" y="240.75" font-family="Liberation Sans" font-size="5.9" fill="#2a2a2a" text-anchor="middle" textLength="2.8" lengthAdjust="spacingAndGlyphs">2</text>
<rect x="473.2" y="241.25" width="4" height="2.25" fill="#383838"/>
<text x="475.2" y="240.75" font-family="Liberation Sans" font-size="5.9" fill="#2a2a2a" text-anchor="middle" textLength="2.8" lengthAdjust="spacingAndGlyphs">2</text>
<rect x="479.3" y="242.38" width="4" height="1.12" fill="#383838"/>
<text x="481.3" y="241.88" font-family="Liberation Sans" font-size="5.9" fill="#2a2a2a" text-anchor="middle" textLength="2.8" lengthAdjust="spacingAndGlyphs">1</text>
<text x="487.4" y="243" font-family="Liberation Sans" font-size="5.9" fill="#2a2a2a" text-anchor="middle" textLength="2.8" lengthAdjust="spacingAndGlyphs">0</text>
<text x="493.5" y="243" font-family="Liberation Sans" font-size="5.9" fill="#2a2a2a" text-anchor="middle" textLength="2.8" lengthAdjust="spacingAndGlyphs">0</text>
<line x1="408.1" y1="247" x2="408.1" y2="265.3" stroke="#3a3a3a" stroke-width="0.85"/>
<circle cx="408.1" cy="247" r="1.05" fill="#2a2a2a"/>
<circle cx="408.1" cy="253.1" r="1.05" fill="#2a2a2a"/>
<circle cx="408.1" cy="259.2" r="1.05" fill="#2a2a2a"/>
<circle cx="408.1" cy="265.3" r="1.05" fill="#2a2a2a"/>
<circle cx="414.2" cy="247" r="0.95" fill="#dcdcdc"/>
<circle cx="414.2" cy="253.1" r="0.95" fill="#dcdcdc"/>
<circle cx="414.2" cy="259.2" r="0.95" fill="#dcdcdc"/>
<circle cx="414.2" cy="265.3" r="1.05" fill="#2a2a2a"/>
<circle cx="420.3" cy="265.3" r="0.95" fill="#dcdcdc"/>
<line x1="420.3" y1="247" x2="420.3" y2="259.2" stroke="#3a3a3a" stroke-width="0.85"/>
<circle cx="420.3" cy="247" r="1.05" fill="#2a2a2a"/>
<circle cx="420.3" cy="253.1" r="1.05" fill="#2a2a2a"/>
<circle cx="420.3" cy="259.2" r="1.05" fill="#2a2a2a"/>
<circle cx="426.4" cy="247" r="0.95" fill="#dcdcdc"/>
<line x1="426.4" y1="253.1" x2="426.4" y2="265.3" stroke="#3a3a3a" stroke-width="0.85"/>
<circle cx="426.4" cy="253.1" r="1.05" fill="#2a2a2a"/>
<circle cx="426.4" cy="259.2" r="1.05" fill="#2a2a2a"/>
<circle cx="426.4" cy="265.3" r="1.05" fill="#2a2a2a"/>
<circle cx="432.5" cy="247" r="0.95" fill="#dcdcdc"/>
<circle cx="432.5" cy="253.1" r="0.95" fill="#dcdcdc"/>
<line x1="432.5" y1="259.2" x2="432.5" y2="265.3" stroke="#3a3a3a" stroke-width="0.85"/>
<circle cx="432.5" cy="259.2" r="1.05" fill="#2a2a2a"/>
<circle cx="432.5" cy="265.3" r="1.05" fill="#2a2a2a"/>
<circle cx="438.6" cy="253.1" r="0.95" fill="#dcdcdc"/>
<line x1="438.6" y1="247" x2="438.6" y2="265.3" stroke="#3a3a3a" stroke-width="0.85"/>
<circle cx="438.6" cy="247" r="1.05" fill="#2a2a2a"/>
<circle cx="438.6" cy="259.2" r="1.05" fill="#2a2a2a"/>
<circle cx="438.6" cy="265.3" r="1.05" fill="#2a2a2a"/>
<circle cx="444.7" cy="259.2" r="0.95" fill="#dcdcdc"/>
<circle cx="444.7" cy="265.3" r="0.95" fill="#dcdcdc"/>
<line x1="444.7" y1="247" x2="444.7" y2="253.1" stroke="#3a3a3a" stroke-width="0.85"/>
<circle cx="444.7" cy="247" r="1.05" fill="#2a2a2a"/>
<circle cx="444.7" cy="253.1" r="1.05" fill="#2a2a2a"/>
<circle cx="450.8" cy="247" r="0.95" fill="#dcdcdc"/>
<circle cx="450.8" cy="259.2" r="0.95" fill="#dcdcdc"/>
<line x1="450.8" y1="253.1" x2="450.8" y2="265.3" stroke="#3a3a3a" stroke-width="0.85"/>
<circle cx="450.8" cy="253.1" r="1.05" fill="#2a2a2a"/>
<circle cx="450.8" cy="265.3" r="1.05" fill="#2a2a2a"/>
<circle cx="456.9" cy="253.1" r="0.95" fill="#dcdcdc"/>
<circle cx="456.9" cy="259.2" r="0.95" fill="#dcdcdc"/>
<circle cx="456.9" cy="265.3" r="0.95" fill="#dcdcdc"/>
<circle cx="456.9" cy="247" r="1.05" fill="#2a2a2a"/>
<circle cx="463" cy="247" r="0.95" fill="#dcdcdc"/>
<circle cx="463" cy="253.1" r="0.95" fill="#dcdcdc"/>
<circle cx="463" cy="265.3" r="0.95" fill="#dcdcdc"/>
<circle cx="463" cy="259.2" r="1.05" fill="#2a2a2a"/>
<circle cx="469.1" cy="253.1" r="0.95" fill="#dcdcdc"/>
<circle cx="469.1" cy="259.2" r="0.95" fill="#dcdcdc"/>
<line x1="469.1" y1="247" x2="469.1" y2="265.3" stroke="#3a3a3a" stroke-width="0.85"/>
<circle cx="469.1" cy="247" r="1.05" fill="#2a2a2a"/>
<circle cx="469.1" cy="265.3" r="1.05" fill="#2a2a2a"/>
<circle cx="475.2" cy="259.2" r="0.95" fill="#dcdcdc"/>
<line x1="475.2" y1="247" x2="475.2" y2="265.3" stroke="#3a3a3a" stroke-width="0.85"/>
<circle cx="475.2" cy="247" r="1.05" fill="#2a2a2a"/>
<circle cx="475.2" cy="253.1" r="1.05" fill="#2a2a2a"/>
<circle cx="475.2" cy="265.3" r="1.05" fill="#2a2a2a"/>
<circle cx="481.3" cy="247" r="0.95" fill="#dcdcdc"/>
<circle cx="481.3" cy="265.3" r="0.95" fill="#dcdcdc"/>
<line x1="481.3" y1="253.1" x2="481.3" y2="259.2" stroke="#3a3a3a" stroke-width="0.85"/>
<circle cx="481.3" cy="253.1" r="1.05" fill="#2a2a2a"/>
<circle cx="481.3" cy="259.2" r="1.05" fill="#2a2a2a"/>
<circle cx="487.4" cy="247" r="0.95" fill="#dcdcdc"/>
<circle cx="487.4" cy="259.2" r="0.95" fill="#dcdcdc"/>
<circle cx="487.4" cy="265.3" r="0.95" fill="#dcdcdc"/>
<circle cx="487.4" cy="253.1" r="1.05" fill="#2a2a2a"/>
<circle cx="493.5" cy="253.1" r="0.95" fill="#dcdcdc"/>
<circle cx="493.5" cy="265.3" r="0.95" fill="#dcdcdc"/>
<line x1="493.5" y1="247" x2="493.5" y2="259.2" stroke="#3a3a3a" stroke-width="0.85"/>
<circle cx="493.5" cy="247" r="1.05" fill="#2a2a2a"/>
<circle cx="493.5" cy="259.2" r="1.05" fill="#2a2a2a"/>
<text x="380.7" y="247.9" font-family="Liberation Sans" font-size="3.4" fill="#505050" textLength="14.5" lengthAdjust="spacingAndGlyphs">Cherry Wine</text>
<text x="380.7" y="254" font-family="Liberation Sans" font-size="3.4" fill="#505050" textLength="13.4" lengthAdjust="spacingAndGlyphs">Sweet Sand</text>
<text x="380.7" y="260.1" font-family="Liberation Sans" font-size="3.4" fill="#505050" textLength="22.3" lengthAdjust="spacingAndGlyphs">American History-1</text>
<text x="380.7" y="266.2" font-family="Liberation Sans" font-size="3.4" fill="#505050" textLength="11.2" lengthAdjust="spacingAndGlyphs">Unknown</text>
<rect x="350" y="245.5" width="28" height="3.0" fill="#52a7dd"/>
<rect x="349.3" y="251.6" width="28.7" height="3.0" fill="#52a7dd"/>
<rect x="348" y="257.7" width="30" height="3.0" fill="#52a7dd"/>
<rect x="345.5" y="263.8" width="32.5" height="3.0" fill="#52a7dd"/>
<line x1="344.4" y1="268.1" x2="378.6" y2="268.1" stroke="#cfcfcf" stroke-width="0.8"/>
<text x="353.5" y="273" font-family="Liberation Sans" font-size="5" fill="#555" text-anchor="middle" textLength="4.8" lengthAdjust="spacingAndGlyphs">75</text>
<text x="362.4" y="273" font-family="Liberation Sans" font-size="5" fill="#555" text-anchor="middle" textLength="4.8" lengthAdjust="spacingAndGlyphs">50</text>
<text x="370.6" y="273" font-family="Liberation Sans" font-size="5" fill="#555" text-anchor="middle" textLength="4.8" lengthAdjust="spacingAndGlyphs">25</text>
<text x="378.8" y="273" font-family="Liberation Sans" font-size="5" fill="#555" text-anchor="middle" textLength="2.4" lengthAdjust="spacingAndGlyphs">0</text>
<text x="352.85" y="277.25" font-family="Liberation Sans" font-size="5" fill="#333" textLength="15.3" lengthAdjust="spacingAndGlyphs">Set Size</text>
<clipPath id="c6"><ellipse cx="472.25" cy="193.75" rx="29.75" ry="21.25"/></clipPath>
<ellipse cx="472.25" cy="193.75" rx="29.75" ry="21.25" fill="#fbf7d1"/>
<ellipse cx="475" cy="193.75" rx="31.25" ry="21.25" fill="#c9e3bc"/>
<ellipse clip-path="url(#c6)" cx="475" cy="193.75" rx="31.25" ry="21.25" fill="#f2f0c7"/>
<ellipse cx="472.25" cy="193.75" rx="29.75" ry="21.25" fill="none" stroke="#262626" stroke-width="0.75" stroke-dasharray="0.7 0.9"/>
<ellipse cx="475" cy="193.75" rx="31.25" ry="21.25" fill="none" stroke="#262626" stroke-width="0.75" stroke-dasharray="0.7 0.9"/>
<line x1="444.2" y1="193" x2="444.2" y2="212.5" stroke="#777" stroke-width="0.5"/>
<text x="438.8" y="177.5" font-family="Liberation Serif" font-size="5.8" fill="#111" textLength="11.7" lengthAdjust="spacingAndGlyphs">CBD</text>
<text x="494.3" y="176.5" font-family="Liberation Serif" font-size="5.8" fill="#111" textLength="11.2" lengthAdjust="spacingAndGlyphs">Fiber</text>
<text x="470.8" y="197.5" font-family="Liberation Serif" font-size="6" fill="#000" textLength="6" lengthAdjust="spacingAndGlyphs" font-weight="bold">90</text>
<text x="502" y="197.5" font-family="Liberation Serif" font-size="6" fill="#000" textLength="5" lengthAdjust="spacingAndGlyphs" font-weight="bold">17</text>
<text x="443.3" y="217.5" font-family="Liberation Serif" font-size="6" fill="#000" textLength="2.5" lengthAdjust="spacingAndGlyphs" font-weight="bold">3</text>
<path d="M679.75,156.9 H514.35 V279.4 H679.75" fill="none" stroke="#4a4a4a" stroke-width="1.15"/>
<line x1="679.75" y1="156.35" x2="679.75" y2="279.95" stroke="#6a6a6a" stroke-width="1.6"/>
<text x="523.5" y="174.1" font-family="Liberation Sans" font-size="8.8" fill="#1a1a1a" textLength="12.7" lengthAdjust="spacingAndGlyphs">Soil</text>
<rect x="573.4" y="248.6" width="97.6" height="6" fill="#f3f3f3"/>
<rect x="573.4" y="260.8" width="97.6" height="6" fill="#f3f3f3"/>
<line x1="573.4" y1="168.1" x2="573.4" y2="242.3" stroke="#c4c4c4" stroke-width="0.8"/>
<line x1="572.4" y1="222.43" x2="573.4" y2="222.43" stroke="#aaa" stroke-width="0.6"/>
<text x="569.9" y="225.73" font-family="Liberation Sans" font-size="6" fill="#4a4a4a" text-anchor="end" textLength="5.8" lengthAdjust="spacingAndGlyphs">25</text>
<line x1="572.4" y1="202.55" x2="573.4" y2="202.55" stroke="#aaa" stroke-width="0.6"/>
<text x="569.9" y="205.85" font-family="Liberation Sans" font-size="6" fill="#4a4a4a" text-anchor="end" textLength="5.8" lengthAdjust="spacingAndGlyphs">50</text>
<line x1="572.4" y1="182.68" x2="573.4" y2="182.68" stroke="#aaa" stroke-width="0.6"/>
<text x="569.9" y="185.98" font-family="Liberation Sans" font-size="6" fill="#4a4a4a" text-anchor="end" textLength="5.8" lengthAdjust="spacingAndGlyphs">75</text>
<text transform="translate(553.5,195.9) rotate(-90)" x="0" y="0" font-family="Liberation Sans" font-size="5.6" fill="#1e1e1e" stroke="#1e1e1e" stroke-width="0.12" text-anchor="middle" textLength="40.7" lengthAdjust="spacingAndGlyphs">Intersection Size</text>
<line x1="573.4" y1="242.3" x2="671" y2="242.3" stroke="#555" stroke-width="0.7"/>
<rect x="577.1" y="177.91" width="4" height="64.4" fill="#383838"/>
<text x="579.1" y="176.91" font-family="Liberation Sans" font-size="5.9" fill="#2a2a2a" text-anchor="middle" textLength="5.6" lengthAdjust="spacingAndGlyphs">81</text>
<rect x="583.24" y="231.97" width="4" height="10.34" fill="#383838"/>
<text x="585.24" y="230.97" font-family="Liberation Sans" font-size="5.9" fill="#2a2a2a" text-anchor="middle" textLength="5.6" lengthAdjust="spacingAndGlyphs">13</text>
<rect x="589.38" y="237.53" width="4" height="4.77" fill="#383838"/>
<text x="591.38" y="236.53" font-family="Liberation Sans" font-size="5.9" fill="#2a2a2a" text-anchor="middle" textLength="2.8" lengthAdjust="spacingAndGlyphs">6</text>
<rect x="595.52" y="237.53" width="4" height="4.77" fill="#383838"/>
<text x="597.52" y="236.53" font-family="Liberation Sans" font-size="5.9" fill="#2a2a2a" text-anchor="middle" textLength="2.8" lengthAdjust="spacingAndGlyphs">6</text>
<rect x="601.66" y="239.12" width="4" height="3.18" fill="#383838"/>
<text x="603.66" y="238.12" font-family="Liberation Sans" font-size="5.9" fill="#2a2a2a" text-anchor="middle" textLength="2.8" lengthAdjust="spacingAndGlyphs">4</text>
<rect x="607.8" y="239.92" width="4" height="2.39" fill="#383838"/>
<text x="609.8" y="238.92" font-family="Liberation Sans" font-size="5.9" fill="#2a2a2a" text-anchor="middle" textLength="2.8" lengthAdjust="spacingAndGlyphs">3</text>
<rect x="613.94" y="240.71" width="4" height="1.59" fill="#383838"/>
<text x="615.94" y="239.71" font-family="Liberation Sans" font-size="5.9" fill="#2a2a2a" text-anchor="middle" textLength="2.8" lengthAdjust="spacingAndGlyphs">2</text>
<rect x="620.08" y="240.71" width="4" height="1.59" fill="#383838"/>
<text x="622.08" y="239.71" font-family="Liberation Sans" font-size="5.9" fill="#2a2a2a" text-anchor="middle" textLength="2.8" lengthAdjust="spacingAndGlyphs">2</text>
<rect x="626.22" y="240.71" width="4" height="1.59" fill="#383838"/>
<text x="628.22" y="239.71" font-family="Liberation Sans" font-size="5.9" fill="#2a2a2a" text-anchor="middle" textLength="2.8" lengthAdjust="spacingAndGlyphs">2</text>
<rect x="632.36" y="241.51" width="4" height="0.8" fill="#383838"/>
<text x="634.36" y="240.51" font-family="Liberation Sans" font-size="5.9" fill="#2a2a2a" text-anchor="middle" textLength="2.8" lengthAdjust="spacingAndGlyphs">1</text>
<rect x="638.5" y="241.51" width="4" height="0.8" fill="#383838"/>
<text x="640.5" y="240.51" font-family="Liberation Sans" font-size="5.9" fill="#2a2a2a" text-anchor="middle" textLength="2.8" lengthAdjust="spacingAndGlyphs">1</text>
<rect x="644.64" y="241.51" width="4" height="0.8" fill="#383838"/>
<text x="646.64" y="240.51" font-family="Liberation Sans" font-size="5.9" fill="#2a2a2a" text-anchor="middle" textLength="2.8" lengthAdjust="spacingAndGlyphs">1</text>
<rect x="650.78" y="241.51" width="4" height="0.8" fill="#383838"/>
<text x="652.78" y="240.51" font-family="Liberation Sans" font-size="5.9" fill="#2a2a2a" text-anchor="middle" textLength="2.8" lengthAdjust="spacingAndGlyphs">1</text>
<text x="658.92" y="241.3" font-family="Liberation Sans" font-size="5.9" fill="#2a2a2a" text-anchor="middle" textLength="2.8" lengthAdjust="spacingAndGlyphs">0</text>
<text x="665.06" y="241.3" font-family="Liberation Sans" font-size="5.9" fill="#2a2a2a" text-anchor="middle" textLength="2.8" lengthAdjust="spacingAndGlyphs">0</text>
<line x1="579.1" y1="245.5" x2="579.1" y2="263.8" stroke="#3a3a3a" stroke-width="0.85"/>
<circle cx="579.1" cy="245.5" r="1.05" fill="#2a2a2a"/>
<circle cx="579.1" cy="251.6" r="1.05" fill="#2a2a2a"/>
<circle cx="579.1" cy="257.7" r="1.05" fill="#2a2a2a"/>
<circle cx="579.1" cy="263.8" r="1.05" fill="#2a2a2a"/>
<circle cx="585.24" cy="245.5" r="0.95" fill="#dcdcdc"/>
<circle cx="585.24" cy="251.6" r="0.95" fill="#dcdcdc"/>
<circle cx="585.24" cy="257.7" r="0.95" fill="#dcdcdc"/>
<circle cx="585.24" cy="263.8" r="1.05" fill="#2a2a2a"/>
<circle cx="591.38" cy="245.5" r="0.95" fill="#dcdcdc"/>
<circle cx="591.38" cy="251.6" r="0.95" fill="#dcdcdc"/>
<line x1="591.38" y1="257.7" x2="591.38" y2="263.8" stroke="#3a3a3a" stroke-width="0.85"/>
<circle cx="591.38" cy="257.7" r="1.05" fill="#2a2a2a"/>
<circle cx="591.38" cy="263.8" r="1.05" fill="#2a2a2a"/>
<circle cx="597.52" cy="251.6" r="0.95" fill="#dcdcdc"/>
<line x1="597.52" y1="245.5" x2="597.52" y2="263.8" stroke="#3a3a3a" stroke-width="0.85"/>
<circle cx="597.52" cy="245.5" r="1.05" fill="#2a2a2a"/>
<circle cx="597.52" cy="257.7" r="1.05" fill="#2a2a2a"/>
<circle cx="597.52" cy="263.8" r="1.05" fill="#2a2a2a"/>
<circle cx="603.66" cy="245.5" r="0.95" fill="#dcdcdc"/>
<line x1="603.66" y1="251.6" x2="603.66" y2="263.8" stroke="#3a3a3a" stroke-width="0.85"/>
<circle cx="603.66" cy="251.6" r="1.05" fill="#2a2a2a"/>
<circle cx="603.66" cy="257.7" r="1.05" fill="#2a2a2a"/>
<circle cx="603.66" cy="263.8" r="1.05" fill="#2a2a2a"/>
<circle cx="609.8" cy="245.5" r="0.95" fill="#dcdcdc"/>
<circle cx="609.8" cy="257.7" r="0.95" fill="#dcdcdc"/>
<line x1="609.8" y1="251.6" x2="609.8" y2="263.8" stroke="#3a3a3a" stroke-width="0.85"/>
<circle cx="609.8" cy="251.6" r="1.05" fill="#2a2a2a"/>
<circle cx="609.8" cy="263.8" r="1.05" fill="#2a2a2a"/>
<circle cx="615.94" cy="245.5" r="0.95" fill="#dcdcdc"/>
<circle cx="615.94" cy="257.7" r="0.95" fill="#dcdcdc"/>
<circle cx="615.94" cy="263.8" r="0.95" fill="#dcdcdc"/>
<circle cx="615.94" cy="251.6" r="1.05" fill="#2a2a2a"/>
<circle cx="622.08" cy="245.5" r="0.95" fill="#dcdcdc"/>
<circle cx="622.08" cy="263.8" r="0.95" fill="#dcdcdc"/>
<line x1="622.08" y1="251.6" x2="622.08" y2="257.7" stroke="#3a3a3a" stroke-width="0.85"/>
<circle cx="622.08" cy="251.6" r="1.05" fill="#2a2a2a"/>
<circle cx="622.08" cy="257.7" r="1.05" fill="#2a2a2a"/>
<circle cx="628.22" cy="251.6" r="0.95" fill="#dcdcdc"/>
<line x1="628.22" y1="245.5" x2="628.22" y2="263.8" stroke="#3a3a3a" stroke-width="0.85"/>
<circle cx="628.22" cy="245.5" r="1.05" fill="#2a2a2a"/>
<circle cx="628.22" cy="257.7" r="1.05" fill="#2a2a2a"/>
<circle cx="628.22" cy="263.8" r="1.05" fill="#2a2a2a"/>
<circle cx="634.36" cy="245.5" r="0.95" fill="#dcdcdc"/>
<circle cx="634.36" cy="251.6" r="0.95" fill="#dcdcdc"/>
<circle cx="634.36" cy="263.8" r="0.95" fill="#dcdcdc"/>
<circle cx="634.36" cy="257.7" r="1.05" fill="#2a2a2a"/>
<circle cx="640.5" cy="251.6" r="0.95" fill="#dcdcdc"/>
<circle cx="640.5" cy="263.8" r="0.95" fill="#dcdcdc"/>
<line x1="640.5" y1="245.5" x2="640.5" y2="257.7" stroke="#3a3a3a" stroke-width="0.85"/>
<circle cx="640.5" cy="245.5" r="1.05" fill="#2a2a2a"/>
<circle cx="640.5" cy="257.7" r="1.05" fill="#2a2a2a"/>
<circle cx="646.64" cy="263.8" r="0.95" fill="#dcdcdc"/>
<line x1="646.64" y1="245.5" x2="646.64" y2="257.7" stroke="#3a3a3a" stroke-width="0.85"/>
<circle cx="646.64" cy="245.5" r="1.05" fill="#2a2a2a"/>
<circle cx="646.64" cy="251.6" r="1.05" fill="#2a2a2a"/>
<circle cx="646.64" cy="257.7" r="1.05" fill="#2a2a2a"/>
<circle cx="652.78" cy="257.7" r="0.95" fill="#dcdcdc"/>
<line x1="652.78" y1="245.5" x2="652.78" y2="263.8" stroke="#3a3a3a" stroke-width="0.85"/>
<circle cx="652.78" cy="245.5" r="1.05" fill="#2a2a2a"/>
<circle cx="652.78" cy="251.6" r="1.05" fill="#2a2a2a"/>
<circle cx="652.78" cy="263.8" r="1.05" fill="#2a2a2a"/>
<circle cx="658.92" cy="251.6" r="0.95" fill="#dcdcdc"/>
<circle cx="658.92" cy="257.7" r="0.95" fill="#dcdcdc"/>
<circle cx="658.92" cy="263.8" r="0.95" fill="#dcdcdc"/>
<circle cx="658.92" cy="245.5" r="1.05" fill="#2a2a2a"/>
<circle cx="665.06" cy="257.7" r="0.95" fill="#dcdcdc"/>
<circle cx="665.06" cy="263.8" r="0.95" fill="#dcdcdc"/>
<line x1="665.06" y1="245.5" x2="665.06" y2="251.6" stroke="#3a3a3a" stroke-width="0.85"/>
<circle cx="665.06" cy="245.5" r="1.05" fill="#2a2a2a"/>
<circle cx="665.06" cy="251.6" r="1.05" fill="#2a2a2a"/>
<text x="552" y="246.4" font-family="Liberation Sans" font-size="3.4" fill="#505050" textLength="13.4" lengthAdjust="spacingAndGlyphs">Sweet Sand</text>
<text x="552" y="252.5" font-family="Liberation Sans" font-size="3.4" fill="#505050" textLength="14.5" lengthAdjust="spacingAndGlyphs">Cherry Wine</text>
<text x="552" y="258.6" font-family="Liberation Sans" font-size="3.4" fill="#505050" textLength="22.3" lengthAdjust="spacingAndGlyphs">American History-1</text>
<text x="552" y="264.7" font-family="Liberation Sans" font-size="3.4" fill="#505050" textLength="11.2" lengthAdjust="spacingAndGlyphs">Unknown</text>
<rect x="523.8" y="244" width="26" height="3.0" fill="#52a7dd"/>
<rect x="523" y="250.1" width="26.8" height="3.0" fill="#52a7dd"/>
<rect x="521.3" y="256.2" width="28.5" height="3.0" fill="#52a7dd"/>
<rect x="517" y="262.3" width="32.8" height="3.0" fill="#52a7dd"/>
<line x1="516" y1="266.2" x2="550.4" y2="266.2" stroke="#cfcfcf" stroke-width="0.8"/>
<text x="518" y="271.2" font-family="Liberation Sans" font-size="5" fill="#555" text-anchor="middle" textLength="6" lengthAdjust="spacingAndGlyphs">120</text>
<text x="525.6" y="271.2" font-family="Liberation Sans" font-size="5" fill="#555" text-anchor="middle" textLength="4" lengthAdjust="spacingAndGlyphs">90</text>
<text x="534" y="271.2" font-family="Liberation Sans" font-size="5" fill="#555" text-anchor="middle" textLength="4" lengthAdjust="spacingAndGlyphs">60</text>
<text x="542.5" y="271.2" font-family="Liberation Sans" font-size="5" fill="#555" text-anchor="middle" textLength="4" lengthAdjust="spacingAndGlyphs">30</text>
<text x="550.2" y="271.2" font-family="Liberation Sans" font-size="5" fill="#555" text-anchor="middle" textLength="2" lengthAdjust="spacingAndGlyphs">0</text>
<text x="526.25" y="276.65" font-family="Liberation Sans" font-size="5" fill="#333" textLength="12.9" lengthAdjust="spacingAndGlyphs">Set Size</text>
<clipPath id="c7"><ellipse cx="639.75" cy="192.25" rx="27.25" ry="19.75"/></clipPath>
<ellipse cx="639.75" cy="192.25" rx="27.25" ry="19.75" fill="#fbf7d1"/>
<ellipse cx="642.55" cy="192.25" rx="28.75" ry="19.75" fill="#c9e3bc"/>
<ellipse clip-path="url(#c7)" cx="642.55" cy="192.25" rx="28.75" ry="19.75" fill="#f2f0c7"/>
<ellipse cx="639.75" cy="192.25" rx="27.25" ry="19.75" fill="none" stroke="#262626" stroke-width="0.75" stroke-dasharray="0.7 0.9"/>
<ellipse cx="642.55" cy="192.25" rx="28.75" ry="19.75" fill="none" stroke="#262626" stroke-width="0.75" stroke-dasharray="0.7 0.9"/>
<line x1="613.4" y1="190" x2="613.4" y2="209.6" stroke="#777" stroke-width="0.5"/>
<text x="608" y="178.3" font-family="Liberation Serif" font-size="5.8" fill="#111" textLength="12" lengthAdjust="spacingAndGlyphs">CBD</text>
<text x="663" y="178.3" font-family="Liberation Serif" font-size="5.8" fill="#111" textLength="12" lengthAdjust="spacingAndGlyphs">Fiber</text>
<text x="638" y="196.3" font-family="Liberation Serif" font-size="6" fill="#000" textLength="8.3" lengthAdjust="spacingAndGlyphs" font-weight="bold">103</text>
<text x="667.5" y="196.3" font-family="Liberation Serif" font-size="6" fill="#000" textLength="5" lengthAdjust="spacingAndGlyphs" font-weight="bold">18</text>
<text x="612.9" y="215.5" font-family="Liberation Serif" font-size="6" fill="#000" textLength="3.2" lengthAdjust="spacingAndGlyphs" font-weight="bold">2</text></svg>
</body></html>
